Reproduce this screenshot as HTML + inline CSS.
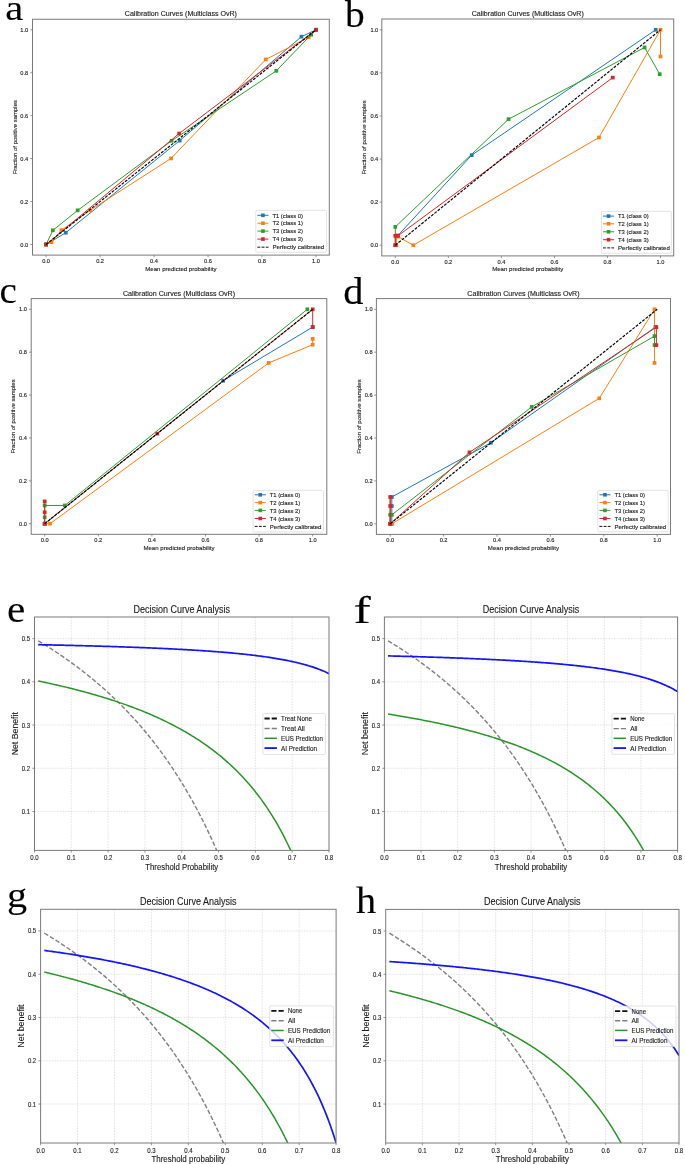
<!DOCTYPE html>
<html><head><meta charset="utf-8"><title>Figure</title>
<style>
html,body{margin:0;padding:0;background:#fff;}
body{width:685px;height:1164px;overflow:hidden;}
svg{display:block;font-family:"Liberation Sans", sans-serif;filter:blur(0.3px);}
text{stroke:#1a1a1a;stroke-width:0.12px;}
</style></head><body>
<svg width="685" height="1164" viewBox="0 0 685 1164">
<rect width="685" height="1164" fill="#fff"/>
<text x="0" y="0" font-size="36.4" fill="#000" font-family='"Liberation Serif", serif' transform="translate(5.18 20.07) scale(1.116 1)">a</text>
<text x="0" y="0" font-size="38.26" fill="#000" font-family='"Liberation Serif", serif' transform="translate(345 27.46) scale(1.032 1)">b</text>
<text x="0" y="0" font-size="38.13" fill="#000" font-family='"Liberation Serif", serif' transform="translate(-0.58 302.76) scale(1.024 1)">c</text>
<text x="0" y="0" font-size="38.62" fill="#000" font-family='"Liberation Serif", serif' transform="translate(343.35 303.55) scale(1.045 1)">d</text>
<text x="0" y="0" font-size="38.02" fill="#000" font-family='"Liberation Serif", serif' transform="translate(7.09 622.46) scale(1.083 1)">e</text>
<text x="0" y="0" font-size="38.55" fill="#000" font-family='"Liberation Serif", serif' transform="translate(353.39 622.64) scale(1.344 1)">f</text>
<text x="0" y="0" font-size="35.16" fill="#000" font-family='"Liberation Serif", serif' transform="translate(6.97 907.14) scale(1.145 1)">g</text>
<text x="0" y="0" font-size="38.67" fill="#000" font-family='"Liberation Serif", serif' transform="translate(356.1 912.74) scale(1.043 1)">h</text>
<g>
<clipPath id="c51"><rect x="32.5" y="19.25" width="296.8" height="235.85"/></clipPath>
<g clip-path="url(#c51)">
<polyline points="46.1,244.5 65.8,232.69 179.7,140.59 301.43,36.67 316,29.8" fill="none" stroke="#1f77b4" stroke-width="1" stroke-linejoin="round"/>
<rect x="44.25" y="242.65" width="3.7" height="3.7" fill="#1f77b4"/>
<rect x="63.95" y="230.84" width="3.7" height="3.7" fill="#1f77b4"/>
<rect x="177.85" y="138.74" width="3.7" height="3.7" fill="#1f77b4"/>
<rect x="299.58" y="34.82" width="3.7" height="3.7" fill="#1f77b4"/>
<rect x="314.15" y="27.95" width="3.7" height="3.7" fill="#1f77b4"/>
<polyline points="46.1,244.5 51.5,242.14 61.48,230.12 90.09,210.36 171.06,158.41 265.8,59.43 308.71,37.31 316,29.8" fill="none" stroke="#ff7f0e" stroke-width="1" stroke-linejoin="round"/>
<rect x="44.25" y="242.65" width="3.7" height="3.7" fill="#ff7f0e"/>
<rect x="49.65" y="240.29" width="3.7" height="3.7" fill="#ff7f0e"/>
<rect x="59.63" y="228.27" width="3.7" height="3.7" fill="#ff7f0e"/>
<rect x="88.24" y="208.51" width="3.7" height="3.7" fill="#ff7f0e"/>
<rect x="169.21" y="156.56" width="3.7" height="3.7" fill="#ff7f0e"/>
<rect x="263.95" y="57.58" width="3.7" height="3.7" fill="#ff7f0e"/>
<rect x="306.86" y="35.46" width="3.7" height="3.7" fill="#ff7f0e"/>
<rect x="314.15" y="27.95" width="3.7" height="3.7" fill="#ff7f0e"/>
<polyline points="46.1,244.5 52.85,230.33 77.68,210.36 171.6,140.8 276.32,70.81 311.14,34.74 316,29.8" fill="none" stroke="#2ca02c" stroke-width="1" stroke-linejoin="round"/>
<rect x="44.25" y="242.65" width="3.7" height="3.7" fill="#2ca02c"/>
<rect x="51" y="228.48" width="3.7" height="3.7" fill="#2ca02c"/>
<rect x="75.83" y="208.51" width="3.7" height="3.7" fill="#2ca02c"/>
<rect x="169.75" y="138.95" width="3.7" height="3.7" fill="#2ca02c"/>
<rect x="274.47" y="68.96" width="3.7" height="3.7" fill="#2ca02c"/>
<rect x="309.29" y="32.89" width="3.7" height="3.7" fill="#2ca02c"/>
<rect x="314.15" y="27.95" width="3.7" height="3.7" fill="#2ca02c"/>
<polyline points="46.1,244.5 179.16,133.5 316,29.8" fill="none" stroke="#d62728" stroke-width="1" stroke-linejoin="round"/>
<rect x="44.25" y="242.65" width="3.7" height="3.7" fill="#d62728"/>
<rect x="177.31" y="131.65" width="3.7" height="3.7" fill="#d62728"/>
<rect x="314.15" y="27.95" width="3.7" height="3.7" fill="#d62728"/>
<polyline points="46.1,244.5 316,29.8" fill="none" stroke="#000" stroke-width="1.15" stroke-linejoin="round" stroke-dasharray="2.9 1.3"/>
</g>
<rect x="32.5" y="19.25" width="296.8" height="235.85" fill="none" stroke="#7a7a7a" stroke-width="1"/>
<line x1="46.1" y1="255.1" x2="46.1" y2="257.3" stroke="#7a7a7a" stroke-width="0.8"/>
<text x="46.1" y="262.9" font-size="5.7" fill="#1a1a1a" text-anchor="middle" textLength="7.9" lengthAdjust="spacingAndGlyphs">0.0</text>
<line x1="30.3" y1="244.5" x2="32.5" y2="244.5" stroke="#7a7a7a" stroke-width="0.8"/>
<text x="28.2" y="246.55" font-size="5.7" fill="#1a1a1a" text-anchor="end" textLength="7.9" lengthAdjust="spacingAndGlyphs">0.0</text>
<line x1="100.08" y1="255.1" x2="100.08" y2="257.3" stroke="#7a7a7a" stroke-width="0.8"/>
<text x="100.08" y="262.9" font-size="5.7" fill="#1a1a1a" text-anchor="middle" textLength="7.9" lengthAdjust="spacingAndGlyphs">0.2</text>
<line x1="30.3" y1="201.56" x2="32.5" y2="201.56" stroke="#7a7a7a" stroke-width="0.8"/>
<text x="28.2" y="203.61" font-size="5.7" fill="#1a1a1a" text-anchor="end" textLength="7.9" lengthAdjust="spacingAndGlyphs">0.2</text>
<line x1="154.06" y1="255.1" x2="154.06" y2="257.3" stroke="#7a7a7a" stroke-width="0.8"/>
<text x="154.06" y="262.9" font-size="5.7" fill="#1a1a1a" text-anchor="middle" textLength="7.9" lengthAdjust="spacingAndGlyphs">0.4</text>
<line x1="30.3" y1="158.62" x2="32.5" y2="158.62" stroke="#7a7a7a" stroke-width="0.8"/>
<text x="28.2" y="160.67" font-size="5.7" fill="#1a1a1a" text-anchor="end" textLength="7.9" lengthAdjust="spacingAndGlyphs">0.4</text>
<line x1="208.04" y1="255.1" x2="208.04" y2="257.3" stroke="#7a7a7a" stroke-width="0.8"/>
<text x="208.04" y="262.9" font-size="5.7" fill="#1a1a1a" text-anchor="middle" textLength="7.9" lengthAdjust="spacingAndGlyphs">0.6</text>
<line x1="30.3" y1="115.68" x2="32.5" y2="115.68" stroke="#7a7a7a" stroke-width="0.8"/>
<text x="28.2" y="117.73" font-size="5.7" fill="#1a1a1a" text-anchor="end" textLength="7.9" lengthAdjust="spacingAndGlyphs">0.6</text>
<line x1="262.02" y1="255.1" x2="262.02" y2="257.3" stroke="#7a7a7a" stroke-width="0.8"/>
<text x="262.02" y="262.9" font-size="5.7" fill="#1a1a1a" text-anchor="middle" textLength="7.9" lengthAdjust="spacingAndGlyphs">0.8</text>
<line x1="30.3" y1="72.74" x2="32.5" y2="72.74" stroke="#7a7a7a" stroke-width="0.8"/>
<text x="28.2" y="74.79" font-size="5.7" fill="#1a1a1a" text-anchor="end" textLength="7.9" lengthAdjust="spacingAndGlyphs">0.8</text>
<line x1="316" y1="255.1" x2="316" y2="257.3" stroke="#7a7a7a" stroke-width="0.8"/>
<text x="316" y="262.9" font-size="5.7" fill="#1a1a1a" text-anchor="middle" textLength="7.9" lengthAdjust="spacingAndGlyphs">1.0</text>
<line x1="30.3" y1="29.8" x2="32.5" y2="29.8" stroke="#7a7a7a" stroke-width="0.8"/>
<text x="28.2" y="31.85" font-size="5.7" fill="#1a1a1a" text-anchor="end" textLength="7.9" lengthAdjust="spacingAndGlyphs">1.0</text>
<text x="180.9" y="16.2" font-size="6.8" fill="#1a1a1a" text-anchor="middle" textLength="112.2" lengthAdjust="spacingAndGlyphs">Calibration Curves (Multiclass OvR)</text>
<text x="180.9" y="270.6" font-size="6.2" fill="#1a1a1a" text-anchor="middle" textLength="71.2" lengthAdjust="spacingAndGlyphs">Mean predicted probability</text>
<text x="16.6" y="137.18" font-size="6" fill="#1a1a1a" text-anchor="middle" textLength="74.3" lengthAdjust="spacingAndGlyphs" transform="rotate(-90 16.6 137.18)">Fraction of positive samples</text>
<rect x="255.8" y="210.4" width="70.8" height="41.9" rx="1.2" fill="#fff" fill-opacity="0.8" stroke="#d8d8d8" stroke-width="0.7"/>
<line x1="257.4" y1="215.3" x2="268.5" y2="215.3" stroke="#1f77b4" stroke-width="1"/>
<rect x="261.15" y="213.5" width="3.6" height="3.6" fill="#1f77b4"/>
<text x="272.4" y="217.5" font-size="6" fill="#1a1a1a" textLength="30.6" lengthAdjust="spacingAndGlyphs">T1 (class 0)</text>
<line x1="257.4" y1="223.2" x2="268.5" y2="223.2" stroke="#ff7f0e" stroke-width="1"/>
<rect x="261.15" y="221.4" width="3.6" height="3.6" fill="#ff7f0e"/>
<text x="272.4" y="225.4" font-size="6" fill="#1a1a1a" textLength="30.6" lengthAdjust="spacingAndGlyphs">T2 (class 1)</text>
<line x1="257.4" y1="231.1" x2="268.5" y2="231.1" stroke="#2ca02c" stroke-width="1"/>
<rect x="261.15" y="229.3" width="3.6" height="3.6" fill="#2ca02c"/>
<text x="272.4" y="233.3" font-size="6" fill="#1a1a1a" textLength="30.6" lengthAdjust="spacingAndGlyphs">T3 (class 2)</text>
<line x1="257.4" y1="239.1" x2="268.5" y2="239.1" stroke="#d62728" stroke-width="1"/>
<rect x="261.15" y="237.3" width="3.6" height="3.6" fill="#d62728"/>
<text x="272.4" y="241.3" font-size="6" fill="#1a1a1a" textLength="30.6" lengthAdjust="spacingAndGlyphs">T4 (class 3)</text>
<line x1="257.4" y1="247.2" x2="268.5" y2="247.2" stroke="#111" stroke-width="1" stroke-dasharray="2.9 1.3"/>
<text x="272.4" y="249.4" font-size="6" fill="#1a1a1a" textLength="51.8" lengthAdjust="spacingAndGlyphs">Perfectly calibrated</text>
</g>
<g>
<clipPath id="c400"><rect x="381.8" y="19" width="291.9" height="236.9"/></clipPath>
<g clip-path="url(#c400)">
<polyline points="397.95,235.51 471.68,155.16 655.73,29.8" fill="none" stroke="#1f77b4" stroke-width="1" stroke-linejoin="round"/>
<rect x="396.1" y="233.66" width="3.7" height="3.7" fill="#1f77b4"/>
<rect x="469.83" y="153.31" width="3.7" height="3.7" fill="#1f77b4"/>
<rect x="653.88" y="27.95" width="3.7" height="3.7" fill="#1f77b4"/>
<polyline points="396.36,245.2 396.36,236.58 397.95,236.58 413.33,245.2 598.97,137.5 660.5,29.8 660.5,56.51" fill="none" stroke="#ff7f0e" stroke-width="1" stroke-linejoin="round"/>
<rect x="394.51" y="243.35" width="3.7" height="3.7" fill="#ff7f0e"/>
<rect x="394.51" y="234.73" width="3.7" height="3.7" fill="#ff7f0e"/>
<rect x="396.1" y="234.73" width="3.7" height="3.7" fill="#ff7f0e"/>
<rect x="411.48" y="243.35" width="3.7" height="3.7" fill="#ff7f0e"/>
<rect x="597.12" y="135.65" width="3.7" height="3.7" fill="#ff7f0e"/>
<rect x="658.65" y="27.95" width="3.7" height="3.7" fill="#ff7f0e"/>
<rect x="658.65" y="54.66" width="3.7" height="3.7" fill="#ff7f0e"/>
<polyline points="395.3,245.2 395.3,226.89 508.54,119.19 644.59,47.46 659.7,74.17" fill="none" stroke="#2ca02c" stroke-width="1" stroke-linejoin="round"/>
<rect x="393.45" y="243.35" width="3.7" height="3.7" fill="#2ca02c"/>
<rect x="393.45" y="225.04" width="3.7" height="3.7" fill="#2ca02c"/>
<rect x="506.69" y="117.34" width="3.7" height="3.7" fill="#2ca02c"/>
<rect x="642.74" y="45.61" width="3.7" height="3.7" fill="#2ca02c"/>
<rect x="657.85" y="72.32" width="3.7" height="3.7" fill="#2ca02c"/>
<polyline points="395.3,245.2 395.3,235.79 397.95,235.79 612.76,77.62" fill="none" stroke="#d62728" stroke-width="1" stroke-linejoin="round"/>
<rect x="393.45" y="243.35" width="3.7" height="3.7" fill="#d62728"/>
<rect x="393.45" y="233.94" width="3.7" height="3.7" fill="#d62728"/>
<rect x="396.1" y="233.94" width="3.7" height="3.7" fill="#d62728"/>
<rect x="610.91" y="75.77" width="3.7" height="3.7" fill="#d62728"/>
<polyline points="395.3,245.2 660.5,29.8" fill="none" stroke="#000" stroke-width="1.15" stroke-linejoin="round" stroke-dasharray="2.9 1.3"/>
</g>
<rect x="381.8" y="19" width="291.9" height="236.9" fill="none" stroke="#7a7a7a" stroke-width="1"/>
<line x1="395.3" y1="255.9" x2="395.3" y2="258.1" stroke="#7a7a7a" stroke-width="0.8"/>
<text x="395.3" y="263.7" font-size="5.7" fill="#1a1a1a" text-anchor="middle" textLength="7.9" lengthAdjust="spacingAndGlyphs">0.0</text>
<line x1="379.6" y1="245.2" x2="381.8" y2="245.2" stroke="#7a7a7a" stroke-width="0.8"/>
<text x="378.3" y="247.25" font-size="5.7" fill="#1a1a1a" text-anchor="end" textLength="7.9" lengthAdjust="spacingAndGlyphs">0.0</text>
<line x1="448.34" y1="255.9" x2="448.34" y2="258.1" stroke="#7a7a7a" stroke-width="0.8"/>
<text x="448.34" y="263.7" font-size="5.7" fill="#1a1a1a" text-anchor="middle" textLength="7.9" lengthAdjust="spacingAndGlyphs">0.2</text>
<line x1="379.6" y1="202.12" x2="381.8" y2="202.12" stroke="#7a7a7a" stroke-width="0.8"/>
<text x="378.3" y="204.17" font-size="5.7" fill="#1a1a1a" text-anchor="end" textLength="7.9" lengthAdjust="spacingAndGlyphs">0.2</text>
<line x1="501.38" y1="255.9" x2="501.38" y2="258.1" stroke="#7a7a7a" stroke-width="0.8"/>
<text x="501.38" y="263.7" font-size="5.7" fill="#1a1a1a" text-anchor="middle" textLength="7.9" lengthAdjust="spacingAndGlyphs">0.4</text>
<line x1="379.6" y1="159.04" x2="381.8" y2="159.04" stroke="#7a7a7a" stroke-width="0.8"/>
<text x="378.3" y="161.09" font-size="5.7" fill="#1a1a1a" text-anchor="end" textLength="7.9" lengthAdjust="spacingAndGlyphs">0.4</text>
<line x1="554.42" y1="255.9" x2="554.42" y2="258.1" stroke="#7a7a7a" stroke-width="0.8"/>
<text x="554.42" y="263.7" font-size="5.7" fill="#1a1a1a" text-anchor="middle" textLength="7.9" lengthAdjust="spacingAndGlyphs">0.6</text>
<line x1="379.6" y1="115.96" x2="381.8" y2="115.96" stroke="#7a7a7a" stroke-width="0.8"/>
<text x="378.3" y="118.01" font-size="5.7" fill="#1a1a1a" text-anchor="end" textLength="7.9" lengthAdjust="spacingAndGlyphs">0.6</text>
<line x1="607.46" y1="255.9" x2="607.46" y2="258.1" stroke="#7a7a7a" stroke-width="0.8"/>
<text x="607.46" y="263.7" font-size="5.7" fill="#1a1a1a" text-anchor="middle" textLength="7.9" lengthAdjust="spacingAndGlyphs">0.8</text>
<line x1="379.6" y1="72.88" x2="381.8" y2="72.88" stroke="#7a7a7a" stroke-width="0.8"/>
<text x="378.3" y="74.93" font-size="5.7" fill="#1a1a1a" text-anchor="end" textLength="7.9" lengthAdjust="spacingAndGlyphs">0.8</text>
<line x1="660.5" y1="255.9" x2="660.5" y2="258.1" stroke="#7a7a7a" stroke-width="0.8"/>
<text x="660.5" y="263.7" font-size="5.7" fill="#1a1a1a" text-anchor="middle" textLength="7.9" lengthAdjust="spacingAndGlyphs">1.0</text>
<line x1="379.6" y1="29.8" x2="381.8" y2="29.8" stroke="#7a7a7a" stroke-width="0.8"/>
<text x="378.3" y="31.85" font-size="5.7" fill="#1a1a1a" text-anchor="end" textLength="7.9" lengthAdjust="spacingAndGlyphs">1.0</text>
<text x="527.75" y="16" font-size="6.8" fill="#1a1a1a" text-anchor="middle" textLength="112.2" lengthAdjust="spacingAndGlyphs">Calibration Curves (Multiclass OvR)</text>
<text x="527.75" y="271.4" font-size="6.2" fill="#1a1a1a" text-anchor="middle" textLength="71.2" lengthAdjust="spacingAndGlyphs">Mean predicted probability</text>
<text x="366.2" y="137.45" font-size="6" fill="#1a1a1a" text-anchor="middle" textLength="74.3" lengthAdjust="spacingAndGlyphs" transform="rotate(-90 366.2 137.45)">Fraction of positive samples</text>
<rect x="601.4" y="211.4" width="70" height="41.9" rx="1.2" fill="#fff" fill-opacity="0.8" stroke="#d8d8d8" stroke-width="0.7"/>
<line x1="603" y1="216.1" x2="614.1" y2="216.1" stroke="#1f77b4" stroke-width="1"/>
<rect x="606.75" y="214.3" width="3.6" height="3.6" fill="#1f77b4"/>
<text x="618" y="218.3" font-size="6" fill="#1a1a1a" textLength="30.6" lengthAdjust="spacingAndGlyphs">T1 (class 0)</text>
<line x1="603" y1="223.8" x2="614.1" y2="223.8" stroke="#ff7f0e" stroke-width="1"/>
<rect x="606.75" y="222" width="3.6" height="3.6" fill="#ff7f0e"/>
<text x="618" y="226" font-size="6" fill="#1a1a1a" textLength="30.6" lengthAdjust="spacingAndGlyphs">T2 (class 1)</text>
<line x1="603" y1="231.8" x2="614.1" y2="231.8" stroke="#2ca02c" stroke-width="1"/>
<rect x="606.75" y="230" width="3.6" height="3.6" fill="#2ca02c"/>
<text x="618" y="234" font-size="6" fill="#1a1a1a" textLength="30.6" lengthAdjust="spacingAndGlyphs">T3 (class 2)</text>
<line x1="603" y1="239.7" x2="614.1" y2="239.7" stroke="#d62728" stroke-width="1"/>
<rect x="606.75" y="237.9" width="3.6" height="3.6" fill="#d62728"/>
<text x="618" y="241.9" font-size="6" fill="#1a1a1a" textLength="30.6" lengthAdjust="spacingAndGlyphs">T4 (class 3)</text>
<line x1="603" y1="247.9" x2="614.1" y2="247.9" stroke="#111" stroke-width="1" stroke-dasharray="2.9 1.3"/>
<text x="618" y="250.1" font-size="6" fill="#1a1a1a" textLength="51.8" lengthAdjust="spacingAndGlyphs">Perfectly calibrated</text>
</g>
<g>
<clipPath id="c329"><rect x="31.2" y="298.6" width="295.6" height="235.7"/></clipPath>
<g clip-path="url(#c329)">
<polyline points="44.7,523.7 223.19,380.7 312.7,327.1" fill="none" stroke="#1f77b4" stroke-width="1" stroke-linejoin="round"/>
<rect x="42.85" y="521.85" width="3.7" height="3.7" fill="#1f77b4"/>
<rect x="221.34" y="378.85" width="3.7" height="3.7" fill="#1f77b4"/>
<rect x="310.85" y="325.25" width="3.7" height="3.7" fill="#1f77b4"/>
<polyline points="44.7,523.7 50.06,523.7 268.75,362.9 312.7,344.68 312.7,338.89" fill="none" stroke="#ff7f0e" stroke-width="1" stroke-linejoin="round"/>
<rect x="42.85" y="521.85" width="3.7" height="3.7" fill="#ff7f0e"/>
<rect x="48.21" y="521.85" width="3.7" height="3.7" fill="#ff7f0e"/>
<rect x="266.9" y="361.05" width="3.7" height="3.7" fill="#ff7f0e"/>
<rect x="310.85" y="342.83" width="3.7" height="3.7" fill="#ff7f0e"/>
<rect x="310.85" y="337.04" width="3.7" height="3.7" fill="#ff7f0e"/>
<polyline points="44.7,523.7 44.7,517.27 44.7,505.48 64.8,505.48 307.34,309.3" fill="none" stroke="#2ca02c" stroke-width="1" stroke-linejoin="round"/>
<rect x="42.85" y="521.85" width="3.7" height="3.7" fill="#2ca02c"/>
<rect x="42.85" y="515.42" width="3.7" height="3.7" fill="#2ca02c"/>
<rect x="42.85" y="503.63" width="3.7" height="3.7" fill="#2ca02c"/>
<rect x="62.95" y="503.63" width="3.7" height="3.7" fill="#2ca02c"/>
<rect x="305.49" y="307.45" width="3.7" height="3.7" fill="#2ca02c"/>
<polyline points="44.7,501.4 44.7,512.34 44.7,523.7 157.26,433.65 312.7,309.3 312.7,327.1" fill="none" stroke="#d62728" stroke-width="1" stroke-linejoin="round"/>
<rect x="42.85" y="499.55" width="3.7" height="3.7" fill="#d62728"/>
<rect x="42.85" y="510.49" width="3.7" height="3.7" fill="#d62728"/>
<rect x="42.85" y="521.85" width="3.7" height="3.7" fill="#d62728"/>
<rect x="155.41" y="431.8" width="3.7" height="3.7" fill="#d62728"/>
<rect x="310.85" y="307.45" width="3.7" height="3.7" fill="#d62728"/>
<rect x="310.85" y="325.25" width="3.7" height="3.7" fill="#d62728"/>
<polyline points="44.7,523.7 312.7,309.3" fill="none" stroke="#000" stroke-width="1.15" stroke-linejoin="round" stroke-dasharray="2.9 1.3"/>
</g>
<rect x="31.2" y="298.6" width="295.6" height="235.7" fill="none" stroke="#7a7a7a" stroke-width="1"/>
<line x1="44.7" y1="534.3" x2="44.7" y2="536.5" stroke="#7a7a7a" stroke-width="0.8"/>
<text x="44.7" y="542.1" font-size="5.7" fill="#1a1a1a" text-anchor="middle" textLength="7.9" lengthAdjust="spacingAndGlyphs">0.0</text>
<line x1="29" y1="523.7" x2="31.2" y2="523.7" stroke="#7a7a7a" stroke-width="0.8"/>
<text x="27" y="525.75" font-size="5.7" fill="#1a1a1a" text-anchor="end" textLength="7.9" lengthAdjust="spacingAndGlyphs">0.0</text>
<line x1="98.3" y1="534.3" x2="98.3" y2="536.5" stroke="#7a7a7a" stroke-width="0.8"/>
<text x="98.3" y="542.1" font-size="5.7" fill="#1a1a1a" text-anchor="middle" textLength="7.9" lengthAdjust="spacingAndGlyphs">0.2</text>
<line x1="29" y1="480.82" x2="31.2" y2="480.82" stroke="#7a7a7a" stroke-width="0.8"/>
<text x="27" y="482.87" font-size="5.7" fill="#1a1a1a" text-anchor="end" textLength="7.9" lengthAdjust="spacingAndGlyphs">0.2</text>
<line x1="151.9" y1="534.3" x2="151.9" y2="536.5" stroke="#7a7a7a" stroke-width="0.8"/>
<text x="151.9" y="542.1" font-size="5.7" fill="#1a1a1a" text-anchor="middle" textLength="7.9" lengthAdjust="spacingAndGlyphs">0.4</text>
<line x1="29" y1="437.94" x2="31.2" y2="437.94" stroke="#7a7a7a" stroke-width="0.8"/>
<text x="27" y="439.99" font-size="5.7" fill="#1a1a1a" text-anchor="end" textLength="7.9" lengthAdjust="spacingAndGlyphs">0.4</text>
<line x1="205.5" y1="534.3" x2="205.5" y2="536.5" stroke="#7a7a7a" stroke-width="0.8"/>
<text x="205.5" y="542.1" font-size="5.7" fill="#1a1a1a" text-anchor="middle" textLength="7.9" lengthAdjust="spacingAndGlyphs">0.6</text>
<line x1="29" y1="395.06" x2="31.2" y2="395.06" stroke="#7a7a7a" stroke-width="0.8"/>
<text x="27" y="397.11" font-size="5.7" fill="#1a1a1a" text-anchor="end" textLength="7.9" lengthAdjust="spacingAndGlyphs">0.6</text>
<line x1="259.1" y1="534.3" x2="259.1" y2="536.5" stroke="#7a7a7a" stroke-width="0.8"/>
<text x="259.1" y="542.1" font-size="5.7" fill="#1a1a1a" text-anchor="middle" textLength="7.9" lengthAdjust="spacingAndGlyphs">0.8</text>
<line x1="29" y1="352.18" x2="31.2" y2="352.18" stroke="#7a7a7a" stroke-width="0.8"/>
<text x="27" y="354.23" font-size="5.7" fill="#1a1a1a" text-anchor="end" textLength="7.9" lengthAdjust="spacingAndGlyphs">0.8</text>
<line x1="312.7" y1="534.3" x2="312.7" y2="536.5" stroke="#7a7a7a" stroke-width="0.8"/>
<text x="312.7" y="542.1" font-size="5.7" fill="#1a1a1a" text-anchor="middle" textLength="7.9" lengthAdjust="spacingAndGlyphs">1.0</text>
<line x1="29" y1="309.3" x2="31.2" y2="309.3" stroke="#7a7a7a" stroke-width="0.8"/>
<text x="27" y="311.35" font-size="5.7" fill="#1a1a1a" text-anchor="end" textLength="7.9" lengthAdjust="spacingAndGlyphs">1.0</text>
<text x="179" y="295.8" font-size="6.8" fill="#1a1a1a" text-anchor="middle" textLength="112.2" lengthAdjust="spacingAndGlyphs">Calibration Curves (Multiclass OvR)</text>
<text x="179" y="549.8" font-size="6.2" fill="#1a1a1a" text-anchor="middle" textLength="71.2" lengthAdjust="spacingAndGlyphs">Mean predicted probability</text>
<text x="15.3" y="416.45" font-size="6" fill="#1a1a1a" text-anchor="middle" textLength="74.3" lengthAdjust="spacingAndGlyphs" transform="rotate(-90 15.3 416.45)">Fraction of positive samples</text>
<rect x="253.1" y="490.4" width="70.4" height="41.6" rx="1.2" fill="#fff" fill-opacity="0.8" stroke="#d8d8d8" stroke-width="0.7"/>
<line x1="254.7" y1="494.8" x2="265.8" y2="494.8" stroke="#1f77b4" stroke-width="1"/>
<rect x="258.45" y="493" width="3.6" height="3.6" fill="#1f77b4"/>
<text x="269.7" y="497" font-size="6" fill="#1a1a1a" textLength="30.6" lengthAdjust="spacingAndGlyphs">T1 (class 0)</text>
<line x1="254.7" y1="502.6" x2="265.8" y2="502.6" stroke="#ff7f0e" stroke-width="1"/>
<rect x="258.45" y="500.8" width="3.6" height="3.6" fill="#ff7f0e"/>
<text x="269.7" y="504.8" font-size="6" fill="#1a1a1a" textLength="30.6" lengthAdjust="spacingAndGlyphs">T2 (class 1)</text>
<line x1="254.7" y1="510.4" x2="265.8" y2="510.4" stroke="#2ca02c" stroke-width="1"/>
<rect x="258.45" y="508.6" width="3.6" height="3.6" fill="#2ca02c"/>
<text x="269.7" y="512.6" font-size="6" fill="#1a1a1a" textLength="30.6" lengthAdjust="spacingAndGlyphs">T3 (class 2)</text>
<line x1="254.7" y1="518.5" x2="265.8" y2="518.5" stroke="#d62728" stroke-width="1"/>
<rect x="258.45" y="516.7" width="3.6" height="3.6" fill="#d62728"/>
<text x="269.7" y="520.7" font-size="6" fill="#1a1a1a" textLength="30.6" lengthAdjust="spacingAndGlyphs">T4 (class 3)</text>
<line x1="254.7" y1="526.4" x2="265.8" y2="526.4" stroke="#111" stroke-width="1" stroke-dasharray="2.9 1.3"/>
<text x="269.7" y="528.6" font-size="6" fill="#1a1a1a" textLength="51.8" lengthAdjust="spacingAndGlyphs">Perfectly calibrated</text>
</g>
<g>
<clipPath id="c675"><rect x="376.4" y="298.6" width="294.1" height="235.8"/></clipPath>
<g clip-path="url(#c675)">
<polyline points="391.8,523.8 391.8,506 391.8,496.99 490.86,442.72 655.33,327.1" fill="none" stroke="#1f77b4" stroke-width="1" stroke-linejoin="round"/>
<rect x="389.95" y="521.95" width="3.7" height="3.7" fill="#1f77b4"/>
<rect x="389.95" y="504.15" width="3.7" height="3.7" fill="#1f77b4"/>
<rect x="389.95" y="495.14" width="3.7" height="3.7" fill="#1f77b4"/>
<rect x="489.01" y="440.87" width="3.7" height="3.7" fill="#1f77b4"/>
<rect x="653.48" y="325.25" width="3.7" height="3.7" fill="#1f77b4"/>
<polyline points="391.8,523.8 599.26,398.32 654.53,309.3 654.53,362.93" fill="none" stroke="#ff7f0e" stroke-width="1" stroke-linejoin="round"/>
<rect x="389.95" y="521.95" width="3.7" height="3.7" fill="#ff7f0e"/>
<rect x="597.41" y="396.47" width="3.7" height="3.7" fill="#ff7f0e"/>
<rect x="652.68" y="307.45" width="3.7" height="3.7" fill="#ff7f0e"/>
<rect x="652.68" y="361.07" width="3.7" height="3.7" fill="#ff7f0e"/>
<polyline points="390.2,523.8 390.2,514.79 391.8,514.79 531.71,406.9 654.53,336.11 654.53,345.12" fill="none" stroke="#2ca02c" stroke-width="1" stroke-linejoin="round"/>
<rect x="388.35" y="521.95" width="3.7" height="3.7" fill="#2ca02c"/>
<rect x="388.35" y="512.94" width="3.7" height="3.7" fill="#2ca02c"/>
<rect x="389.95" y="512.94" width="3.7" height="3.7" fill="#2ca02c"/>
<rect x="529.86" y="405.05" width="3.7" height="3.7" fill="#2ca02c"/>
<rect x="652.68" y="334.26" width="3.7" height="3.7" fill="#2ca02c"/>
<rect x="652.68" y="343.27" width="3.7" height="3.7" fill="#2ca02c"/>
<polyline points="390.2,523.8 390.2,506 390.2,496.99 390.2,523.8 469.5,452.37 656.4,327.1 656.4,345.12" fill="none" stroke="#d62728" stroke-width="1" stroke-linejoin="round"/>
<rect x="388.35" y="521.95" width="3.7" height="3.7" fill="#d62728"/>
<rect x="388.35" y="504.15" width="3.7" height="3.7" fill="#d62728"/>
<rect x="388.35" y="495.14" width="3.7" height="3.7" fill="#d62728"/>
<rect x="388.35" y="521.95" width="3.7" height="3.7" fill="#d62728"/>
<rect x="467.65" y="450.52" width="3.7" height="3.7" fill="#d62728"/>
<rect x="654.55" y="325.25" width="3.7" height="3.7" fill="#d62728"/>
<rect x="654.55" y="343.27" width="3.7" height="3.7" fill="#d62728"/>
<polyline points="390.2,523.8 657.2,309.3" fill="none" stroke="#000" stroke-width="1.15" stroke-linejoin="round" stroke-dasharray="2.9 1.3"/>
</g>
<rect x="376.4" y="298.6" width="294.1" height="235.8" fill="none" stroke="#7a7a7a" stroke-width="1"/>
<line x1="390.2" y1="534.4" x2="390.2" y2="536.6" stroke="#7a7a7a" stroke-width="0.8"/>
<text x="390.2" y="542.2" font-size="5.7" fill="#1a1a1a" text-anchor="middle" textLength="7.9" lengthAdjust="spacingAndGlyphs">0.0</text>
<line x1="374.2" y1="523.8" x2="376.4" y2="523.8" stroke="#7a7a7a" stroke-width="0.8"/>
<text x="372.6" y="525.85" font-size="5.7" fill="#1a1a1a" text-anchor="end" textLength="7.9" lengthAdjust="spacingAndGlyphs">0.0</text>
<line x1="443.6" y1="534.4" x2="443.6" y2="536.6" stroke="#7a7a7a" stroke-width="0.8"/>
<text x="443.6" y="542.2" font-size="5.7" fill="#1a1a1a" text-anchor="middle" textLength="7.9" lengthAdjust="spacingAndGlyphs">0.2</text>
<line x1="374.2" y1="480.9" x2="376.4" y2="480.9" stroke="#7a7a7a" stroke-width="0.8"/>
<text x="372.6" y="482.95" font-size="5.7" fill="#1a1a1a" text-anchor="end" textLength="7.9" lengthAdjust="spacingAndGlyphs">0.2</text>
<line x1="497" y1="534.4" x2="497" y2="536.6" stroke="#7a7a7a" stroke-width="0.8"/>
<text x="497" y="542.2" font-size="5.7" fill="#1a1a1a" text-anchor="middle" textLength="7.9" lengthAdjust="spacingAndGlyphs">0.4</text>
<line x1="374.2" y1="438" x2="376.4" y2="438" stroke="#7a7a7a" stroke-width="0.8"/>
<text x="372.6" y="440.05" font-size="5.7" fill="#1a1a1a" text-anchor="end" textLength="7.9" lengthAdjust="spacingAndGlyphs">0.4</text>
<line x1="550.4" y1="534.4" x2="550.4" y2="536.6" stroke="#7a7a7a" stroke-width="0.8"/>
<text x="550.4" y="542.2" font-size="5.7" fill="#1a1a1a" text-anchor="middle" textLength="7.9" lengthAdjust="spacingAndGlyphs">0.6</text>
<line x1="374.2" y1="395.1" x2="376.4" y2="395.1" stroke="#7a7a7a" stroke-width="0.8"/>
<text x="372.6" y="397.15" font-size="5.7" fill="#1a1a1a" text-anchor="end" textLength="7.9" lengthAdjust="spacingAndGlyphs">0.6</text>
<line x1="603.8" y1="534.4" x2="603.8" y2="536.6" stroke="#7a7a7a" stroke-width="0.8"/>
<text x="603.8" y="542.2" font-size="5.7" fill="#1a1a1a" text-anchor="middle" textLength="7.9" lengthAdjust="spacingAndGlyphs">0.8</text>
<line x1="374.2" y1="352.2" x2="376.4" y2="352.2" stroke="#7a7a7a" stroke-width="0.8"/>
<text x="372.6" y="354.25" font-size="5.7" fill="#1a1a1a" text-anchor="end" textLength="7.9" lengthAdjust="spacingAndGlyphs">0.8</text>
<line x1="657.2" y1="534.4" x2="657.2" y2="536.6" stroke="#7a7a7a" stroke-width="0.8"/>
<text x="657.2" y="542.2" font-size="5.7" fill="#1a1a1a" text-anchor="middle" textLength="7.9" lengthAdjust="spacingAndGlyphs">1.0</text>
<line x1="374.2" y1="309.3" x2="376.4" y2="309.3" stroke="#7a7a7a" stroke-width="0.8"/>
<text x="372.6" y="311.35" font-size="5.7" fill="#1a1a1a" text-anchor="end" textLength="7.9" lengthAdjust="spacingAndGlyphs">1.0</text>
<text x="523.45" y="295.7" font-size="6.8" fill="#1a1a1a" text-anchor="middle" textLength="112.2" lengthAdjust="spacingAndGlyphs">Calibration Curves (Multiclass OvR)</text>
<text x="523.45" y="549.8" font-size="6.2" fill="#1a1a1a" text-anchor="middle" textLength="71.2" lengthAdjust="spacingAndGlyphs">Mean predicted probability</text>
<text x="361" y="416.5" font-size="6" fill="#1a1a1a" text-anchor="middle" textLength="74.3" lengthAdjust="spacingAndGlyphs" transform="rotate(-90 361 416.5)">Fraction of positive samples</text>
<rect x="597.8" y="490.4" width="70.4" height="41.4" rx="1.2" fill="#fff" fill-opacity="0.8" stroke="#d8d8d8" stroke-width="0.7"/>
<line x1="599.4" y1="494.8" x2="610.5" y2="494.8" stroke="#1f77b4" stroke-width="1"/>
<rect x="603.15" y="493" width="3.6" height="3.6" fill="#1f77b4"/>
<text x="614.4" y="497" font-size="6" fill="#1a1a1a" textLength="30.6" lengthAdjust="spacingAndGlyphs">T1 (class 0)</text>
<line x1="599.4" y1="502.6" x2="610.5" y2="502.6" stroke="#ff7f0e" stroke-width="1"/>
<rect x="603.15" y="500.8" width="3.6" height="3.6" fill="#ff7f0e"/>
<text x="614.4" y="504.8" font-size="6" fill="#1a1a1a" textLength="30.6" lengthAdjust="spacingAndGlyphs">T2 (class 1)</text>
<line x1="599.4" y1="510.4" x2="610.5" y2="510.4" stroke="#2ca02c" stroke-width="1"/>
<rect x="603.15" y="508.6" width="3.6" height="3.6" fill="#2ca02c"/>
<text x="614.4" y="512.6" font-size="6" fill="#1a1a1a" textLength="30.6" lengthAdjust="spacingAndGlyphs">T3 (class 2)</text>
<line x1="599.4" y1="518.5" x2="610.5" y2="518.5" stroke="#d62728" stroke-width="1"/>
<rect x="603.15" y="516.7" width="3.6" height="3.6" fill="#d62728"/>
<text x="614.4" y="520.7" font-size="6" fill="#1a1a1a" textLength="30.6" lengthAdjust="spacingAndGlyphs">T4 (class 3)</text>
<line x1="599.4" y1="526.4" x2="610.5" y2="526.4" stroke="#111" stroke-width="1" stroke-dasharray="2.9 1.3"/>
<text x="614.4" y="528.6" font-size="6" fill="#1a1a1a" textLength="51.8" lengthAdjust="spacingAndGlyphs">Perfectly calibrated</text>
</g>
<g>
<clipPath id="d651"><rect x="34.5" y="617" width="294.5" height="233.4"/></clipPath>
<line x1="71.31" y1="617" x2="71.31" y2="850.4" stroke="#d0d0d0" stroke-width="0.6" stroke-dasharray="1.6 1.2"/>
<line x1="108.12" y1="617" x2="108.12" y2="850.4" stroke="#d0d0d0" stroke-width="0.6" stroke-dasharray="1.6 1.2"/>
<line x1="144.94" y1="617" x2="144.94" y2="850.4" stroke="#d0d0d0" stroke-width="0.6" stroke-dasharray="1.6 1.2"/>
<line x1="181.75" y1="617" x2="181.75" y2="850.4" stroke="#d0d0d0" stroke-width="0.6" stroke-dasharray="1.6 1.2"/>
<line x1="218.56" y1="617" x2="218.56" y2="850.4" stroke="#d0d0d0" stroke-width="0.6" stroke-dasharray="1.6 1.2"/>
<line x1="255.38" y1="617" x2="255.38" y2="850.4" stroke="#d0d0d0" stroke-width="0.6" stroke-dasharray="1.6 1.2"/>
<line x1="292.19" y1="617" x2="292.19" y2="850.4" stroke="#d0d0d0" stroke-width="0.6" stroke-dasharray="1.6 1.2"/>
<line x1="34.5" y1="811.5" x2="329" y2="811.5" stroke="#d0d0d0" stroke-width="0.6" stroke-dasharray="1.6 1.2"/>
<line x1="34.5" y1="768.28" x2="329" y2="768.28" stroke="#d0d0d0" stroke-width="0.6" stroke-dasharray="1.6 1.2"/>
<line x1="34.5" y1="725.06" x2="329" y2="725.06" stroke="#d0d0d0" stroke-width="0.6" stroke-dasharray="1.6 1.2"/>
<line x1="34.5" y1="681.83" x2="329" y2="681.83" stroke="#d0d0d0" stroke-width="0.6" stroke-dasharray="1.6 1.2"/>
<line x1="34.5" y1="638.61" x2="329" y2="638.61" stroke="#d0d0d0" stroke-width="0.6" stroke-dasharray="1.6 1.2"/>
<g clip-path="url(#d651)">
<polyline points="38.18,640.79 39.64,641.67 41.09,642.55 42.54,643.44 44,644.33 45.45,645.24 46.91,646.15 48.36,647.07 49.81,647.99 51.27,648.92 52.72,649.87 54.18,650.81 55.63,651.77 57.08,652.74 58.54,653.71 59.99,654.69 61.45,655.68 62.9,656.68 64.35,657.68 65.81,658.7 67.26,659.72 68.72,660.76 70.17,661.8 71.63,662.85 73.08,663.91 74.53,664.98 75.99,666.06 77.44,667.15 78.9,668.25 80.35,669.36 81.8,670.48 83.26,671.61 84.71,672.74 86.17,673.89 87.62,675.05 89.07,676.23 90.53,677.41 91.98,678.6 93.44,679.81 94.89,681.02 96.34,682.25 97.8,683.49 99.25,684.74 100.71,686 102.16,687.28 103.62,688.56 105.07,689.86 106.52,691.18 107.98,692.5 109.43,693.84 110.89,695.2 112.34,696.56 113.79,697.94 115.25,699.33 116.7,700.74 118.16,702.16 119.61,703.6 121.06,705.05 122.52,706.52 123.97,708 125.43,709.5 126.88,711.01 128.34,712.54 129.79,714.09 131.24,715.65 132.7,717.23 134.15,718.83 135.61,720.44 137.06,722.07 138.51,723.72 139.97,725.39 141.42,727.07 142.88,728.78 144.33,730.5 145.78,732.25 147.24,734.01 148.69,735.8 150.15,737.6 151.6,739.42 153.05,741.27 154.51,743.14 155.96,745.03 157.42,746.94 158.87,748.88 160.33,750.84 161.78,752.82 163.23,754.83 164.69,756.86 166.14,758.91 167.6,760.99 169.05,763.1 170.5,765.23 171.96,767.39 173.41,769.58 174.87,771.8 176.32,774.04 177.77,776.32 179.23,778.62 180.68,780.95 182.14,783.32 183.59,785.71 185.04,788.14 186.5,790.6 187.95,793.09 189.41,795.62 190.86,798.18 192.32,800.78 193.77,803.41 195.22,806.08 196.68,808.79 198.13,811.54 199.59,814.33 201.04,817.15 202.49,820.02 203.95,822.93 205.4,825.88 206.86,828.88 208.31,831.92 209.76,835 211.22,838.14 212.67,841.32 214.13,844.55 215.58,847.83 217.03,851.16 218.49,854.55 219.94,857.99" fill="none" stroke="#7f7f7f" stroke-width="1.4" stroke-linejoin="round" stroke-dasharray="4.6 2.0"/>
<polyline points="38.18,680.99 39.64,681.29 41.09,681.59 42.54,681.89 44,682.2 45.45,682.51 46.91,682.83 48.36,683.14 49.81,683.46 51.27,683.78 52.72,684.11 54.18,684.43 55.63,684.76 57.08,685.09 58.54,685.43 59.99,685.77 61.45,686.11 62.9,686.45 64.35,686.8 65.81,687.14 67.26,687.5 68.72,687.85 70.17,688.21 71.63,688.57 73.08,688.94 74.53,689.31 75.99,689.68 77.44,690.05 78.9,690.43 80.35,690.81 81.8,691.2 83.26,691.58 84.71,691.98 86.17,692.37 87.62,692.77 89.07,693.17 90.53,693.58 91.98,693.99 93.44,694.41 94.89,694.82 96.34,695.25 97.8,695.67 99.25,696.1 100.71,696.54 102.16,696.98 103.62,697.42 105.07,697.87 106.52,698.32 107.98,698.77 109.43,699.23 110.89,699.7 112.34,700.17 113.79,700.64 115.25,701.12 116.7,701.61 118.16,702.1 119.61,702.59 121.06,703.09 122.52,703.59 123.97,704.1 125.43,704.62 126.88,705.14 128.34,705.67 129.79,706.2 131.24,706.74 132.7,707.28 134.15,707.83 135.61,708.38 137.06,708.94 138.51,709.51 139.97,710.09 141.42,710.67 142.88,711.25 144.33,711.85 145.78,712.45 147.24,713.05 148.69,713.67 150.15,714.29 151.6,714.91 153.05,715.55 154.51,716.19 155.96,716.84 157.42,717.5 158.87,718.17 160.33,718.84 161.78,719.52 163.23,720.21 164.69,720.91 166.14,721.62 167.6,722.33 169.05,723.06 170.5,723.79 171.96,724.54 173.41,725.29 174.87,726.05 176.32,726.82 177.77,727.6 179.23,728.4 180.68,729.2 182.14,730.01 183.59,730.84 185.04,731.67 186.5,732.52 187.95,733.38 189.41,734.25 190.86,735.13 192.32,736.02 193.77,736.93 195.22,737.84 196.68,738.78 198.13,739.72 199.59,740.68 201.04,741.65 202.49,742.64 203.95,743.64 205.4,744.65 206.86,745.69 208.31,746.73 209.76,747.79 211.22,748.87 212.67,749.97 214.13,751.08 215.58,752.21 217.03,753.35 218.49,754.52 219.94,755.7 221.4,756.9 222.85,758.12 224.31,759.36 225.76,760.63 227.21,761.91 228.67,763.21 230.12,764.54 231.58,765.89 233.03,767.26 234.48,768.66 235.94,770.08 237.39,771.52 238.85,772.99 240.3,774.49 241.75,776.01 243.21,777.56 244.66,779.14 246.12,780.75 247.57,782.39 249.02,784.06 250.48,785.77 251.93,787.5 253.39,789.27 254.84,791.08 256.3,792.92 257.75,794.79 259.2,796.71 260.66,798.66 262.11,800.66 263.57,802.69 265.02,804.77 266.47,806.9 267.93,809.07 269.38,811.29 270.84,813.55 272.29,815.87 273.74,818.24 275.2,820.66 276.65,823.14 278.11,825.68 279.56,828.27 281.01,830.93 282.47,833.66 283.92,836.45 285.38,839.31 286.83,842.24 288.29,845.24 289.74,848.33 291.19,851.49 292.65,854.74" fill="none" stroke="#279527" stroke-width="1.5" stroke-linejoin="round"/>
<polyline points="38.18,644.69 39.64,644.72 41.09,644.75 42.54,644.78 44,644.81 45.45,644.84 46.91,644.87 48.36,644.9 49.81,644.93 51.27,644.96 52.72,645 54.18,645.03 55.63,645.06 57.08,645.09 58.54,645.13 59.99,645.16 61.45,645.19 62.9,645.22 64.35,645.26 65.81,645.29 67.26,645.33 68.72,645.36 70.17,645.4 71.63,645.43 73.08,645.47 74.53,645.5 75.99,645.54 77.44,645.58 78.9,645.61 80.35,645.65 81.8,645.69 83.26,645.73 84.71,645.76 86.17,645.8 87.62,645.84 89.07,645.88 90.53,645.92 91.98,645.96 93.44,646 94.89,646.04 96.34,646.08 97.8,646.12 99.25,646.17 100.71,646.21 102.16,646.25 103.62,646.29 105.07,646.34 106.52,646.38 107.98,646.43 109.43,646.47 110.89,646.52 112.34,646.56 113.79,646.61 115.25,646.66 116.7,646.7 118.16,646.75 119.61,646.8 121.06,646.85 122.52,646.9 123.97,646.95 125.43,647 126.88,647.05 128.34,647.1 129.79,647.15 131.24,647.2 132.7,647.26 134.15,647.31 135.61,647.36 137.06,647.42 138.51,647.47 139.97,647.53 141.42,647.59 142.88,647.64 144.33,647.7 145.78,647.76 147.24,647.82 148.69,647.88 150.15,647.94 151.6,648 153.05,648.06 154.51,648.12 155.96,648.19 157.42,648.25 158.87,648.32 160.33,648.38 161.78,648.45 163.23,648.52 164.69,648.58 166.14,648.65 167.6,648.72 169.05,648.79 170.5,648.87 171.96,648.94 173.41,649.01 174.87,649.09 176.32,649.16 177.77,649.24 179.23,649.31 180.68,649.39 182.14,649.47 183.59,649.55 185.04,649.63 186.5,649.72 187.95,649.8 189.41,649.89 190.86,649.97 192.32,650.06 193.77,650.15 195.22,650.24 196.68,650.33 198.13,650.42 199.59,650.51 201.04,650.61 202.49,650.7 203.95,650.8 205.4,650.9 206.86,651 208.31,651.1 209.76,651.21 211.22,651.31 212.67,651.42 214.13,651.53 215.58,651.64 217.03,651.75 218.49,651.86 219.94,651.98 221.4,652.09 222.85,652.21 224.31,652.33 225.76,652.46 227.21,652.58 228.67,652.71 230.12,652.84 231.58,652.97 233.03,653.1 234.48,653.24 235.94,653.38 237.39,653.52 238.85,653.66 240.3,653.81 241.75,653.96 243.21,654.11 244.66,654.26 246.12,654.42 247.57,654.58 249.02,654.74 250.48,654.91 251.93,655.08 253.39,655.25 254.84,655.43 256.3,655.61 257.75,655.79 259.2,655.98 260.66,656.17 262.11,656.36 263.57,656.56 265.02,656.76 266.47,656.97 267.93,657.18 269.38,657.4 270.84,657.62 272.29,657.84 273.74,658.07 275.2,658.31 276.65,658.55 278.11,658.8 279.56,659.05 281.01,659.31 282.47,659.58 283.92,659.85 285.38,660.13 286.83,660.41 288.29,660.71 289.74,661.01 291.19,661.32 292.65,661.63 294.1,661.96 295.56,662.29 297.01,662.64 298.46,662.99 299.92,663.35 301.37,663.72 302.83,664.11 304.28,664.5 305.73,664.91 307.19,665.33 308.64,665.76 310.1,666.21 311.55,666.67 313,667.14 314.46,667.64 315.91,668.14 317.37,668.67 318.82,669.21 320.28,669.77 321.73,670.36 323.18,670.96 324.64,671.59 326.09,672.24 327.55,672.91 329,673.61" fill="none" stroke="#1414ff" stroke-width="1.7" stroke-linejoin="round"/>
</g>
<rect x="34.5" y="617" width="294.5" height="233.4" fill="none" stroke="#7a7a7a" stroke-width="1"/>
<line x1="34.5" y1="850.4" x2="34.5" y2="852.6" stroke="#7a7a7a" stroke-width="0.8"/>
<text x="34.5" y="859.9" font-size="6.9" fill="#1a1a1a" text-anchor="middle" textLength="8.4" lengthAdjust="spacingAndGlyphs">0.0</text>
<line x1="71.31" y1="850.4" x2="71.31" y2="852.6" stroke="#7a7a7a" stroke-width="0.8"/>
<text x="71.31" y="859.9" font-size="6.9" fill="#1a1a1a" text-anchor="middle" textLength="8.4" lengthAdjust="spacingAndGlyphs">0.1</text>
<line x1="108.12" y1="850.4" x2="108.12" y2="852.6" stroke="#7a7a7a" stroke-width="0.8"/>
<text x="108.12" y="859.9" font-size="6.9" fill="#1a1a1a" text-anchor="middle" textLength="8.4" lengthAdjust="spacingAndGlyphs">0.2</text>
<line x1="144.94" y1="850.4" x2="144.94" y2="852.6" stroke="#7a7a7a" stroke-width="0.8"/>
<text x="144.94" y="859.9" font-size="6.9" fill="#1a1a1a" text-anchor="middle" textLength="8.4" lengthAdjust="spacingAndGlyphs">0.3</text>
<line x1="181.75" y1="850.4" x2="181.75" y2="852.6" stroke="#7a7a7a" stroke-width="0.8"/>
<text x="181.75" y="859.9" font-size="6.9" fill="#1a1a1a" text-anchor="middle" textLength="8.4" lengthAdjust="spacingAndGlyphs">0.4</text>
<line x1="218.56" y1="850.4" x2="218.56" y2="852.6" stroke="#7a7a7a" stroke-width="0.8"/>
<text x="218.56" y="859.9" font-size="6.9" fill="#1a1a1a" text-anchor="middle" textLength="8.4" lengthAdjust="spacingAndGlyphs">0.5</text>
<line x1="255.38" y1="850.4" x2="255.38" y2="852.6" stroke="#7a7a7a" stroke-width="0.8"/>
<text x="255.38" y="859.9" font-size="6.9" fill="#1a1a1a" text-anchor="middle" textLength="8.4" lengthAdjust="spacingAndGlyphs">0.6</text>
<line x1="292.19" y1="850.4" x2="292.19" y2="852.6" stroke="#7a7a7a" stroke-width="0.8"/>
<text x="292.19" y="859.9" font-size="6.9" fill="#1a1a1a" text-anchor="middle" textLength="8.4" lengthAdjust="spacingAndGlyphs">0.7</text>
<line x1="329" y1="850.4" x2="329" y2="852.6" stroke="#7a7a7a" stroke-width="0.8"/>
<text x="329" y="859.9" font-size="6.9" fill="#1a1a1a" text-anchor="middle" textLength="8.4" lengthAdjust="spacingAndGlyphs">0.8</text>
<line x1="32.3" y1="811.5" x2="34.5" y2="811.5" stroke="#7a7a7a" stroke-width="0.8"/>
<text x="30.1" y="814" font-size="6.9" fill="#1a1a1a" text-anchor="end" textLength="8.3" lengthAdjust="spacingAndGlyphs">0.1</text>
<line x1="32.3" y1="768.28" x2="34.5" y2="768.28" stroke="#7a7a7a" stroke-width="0.8"/>
<text x="30.1" y="770.78" font-size="6.9" fill="#1a1a1a" text-anchor="end" textLength="8.3" lengthAdjust="spacingAndGlyphs">0.2</text>
<line x1="32.3" y1="725.06" x2="34.5" y2="725.06" stroke="#7a7a7a" stroke-width="0.8"/>
<text x="30.1" y="727.56" font-size="6.9" fill="#1a1a1a" text-anchor="end" textLength="8.3" lengthAdjust="spacingAndGlyphs">0.3</text>
<line x1="32.3" y1="681.83" x2="34.5" y2="681.83" stroke="#7a7a7a" stroke-width="0.8"/>
<text x="30.1" y="684.33" font-size="6.9" fill="#1a1a1a" text-anchor="end" textLength="8.3" lengthAdjust="spacingAndGlyphs">0.4</text>
<line x1="32.3" y1="638.61" x2="34.5" y2="638.61" stroke="#7a7a7a" stroke-width="0.8"/>
<text x="30.1" y="641.11" font-size="6.9" fill="#1a1a1a" text-anchor="end" textLength="8.3" lengthAdjust="spacingAndGlyphs">0.5</text>
<text x="181.75" y="613.4" font-size="10.2" fill="#1a1a1a" text-anchor="middle" textLength="96.5" lengthAdjust="spacingAndGlyphs">Decision Curve Analysis</text>
<text x="181.75" y="869.7" font-size="8.7" fill="#1a1a1a" text-anchor="middle" textLength="72.9" lengthAdjust="spacingAndGlyphs">Threshold Probability</text>
<text x="18.3" y="733.7" font-size="8.6" fill="#1a1a1a" text-anchor="middle" textLength="43.2" lengthAdjust="spacingAndGlyphs" transform="rotate(-90 18.3 733.7)">Net Benefit</text>
<rect x="262.9" y="713.5" width="62.6" height="41" rx="1.2" fill="#fff" fill-opacity="0.8" stroke="#d8d8d8" stroke-width="0.7"/>
<line x1="264.5" y1="718.5" x2="276.9" y2="718.5" stroke="#111" stroke-width="1.8" stroke-dasharray="5.2 2.0"/>
<text x="281.1" y="720.9" font-size="6.6" fill="#1a1a1a" textLength="30.9" lengthAdjust="spacingAndGlyphs">Treat None</text>
<line x1="264.5" y1="728.5" x2="276.9" y2="728.5" stroke="#7f7f7f" stroke-width="1.4" stroke-dasharray="5.2 2.0"/>
<text x="281.1" y="730.9" font-size="6.6" fill="#1a1a1a" textLength="23.5" lengthAdjust="spacingAndGlyphs">Treat All</text>
<line x1="264.5" y1="738.3" x2="276.9" y2="738.3" stroke="#279527" stroke-width="1.5"/>
<text x="281.1" y="740.7" font-size="6.6" fill="#1a1a1a" textLength="41.8" lengthAdjust="spacingAndGlyphs">EUS Prediction</text>
<line x1="264.5" y1="748.1" x2="276.9" y2="748.1" stroke="#1414ff" stroke-width="1.8"/>
<text x="281.1" y="750.5" font-size="6.6" fill="#1a1a1a" textLength="35.9" lengthAdjust="spacingAndGlyphs">AI Prediction</text>
</g>
<g>
<clipPath id="d1001"><rect x="384.4" y="617" width="293.2" height="233.4"/></clipPath>
<line x1="421.05" y1="617" x2="421.05" y2="850.4" stroke="#d0d0d0" stroke-width="0.6" stroke-dasharray="1.6 1.2"/>
<line x1="457.7" y1="617" x2="457.7" y2="850.4" stroke="#d0d0d0" stroke-width="0.6" stroke-dasharray="1.6 1.2"/>
<line x1="494.35" y1="617" x2="494.35" y2="850.4" stroke="#d0d0d0" stroke-width="0.6" stroke-dasharray="1.6 1.2"/>
<line x1="531" y1="617" x2="531" y2="850.4" stroke="#d0d0d0" stroke-width="0.6" stroke-dasharray="1.6 1.2"/>
<line x1="567.65" y1="617" x2="567.65" y2="850.4" stroke="#d0d0d0" stroke-width="0.6" stroke-dasharray="1.6 1.2"/>
<line x1="604.3" y1="617" x2="604.3" y2="850.4" stroke="#d0d0d0" stroke-width="0.6" stroke-dasharray="1.6 1.2"/>
<line x1="640.95" y1="617" x2="640.95" y2="850.4" stroke="#d0d0d0" stroke-width="0.6" stroke-dasharray="1.6 1.2"/>
<line x1="384.4" y1="811.5" x2="677.6" y2="811.5" stroke="#d0d0d0" stroke-width="0.6" stroke-dasharray="1.6 1.2"/>
<line x1="384.4" y1="768.28" x2="677.6" y2="768.28" stroke="#d0d0d0" stroke-width="0.6" stroke-dasharray="1.6 1.2"/>
<line x1="384.4" y1="725.06" x2="677.6" y2="725.06" stroke="#d0d0d0" stroke-width="0.6" stroke-dasharray="1.6 1.2"/>
<line x1="384.4" y1="681.83" x2="677.6" y2="681.83" stroke="#d0d0d0" stroke-width="0.6" stroke-dasharray="1.6 1.2"/>
<line x1="384.4" y1="638.61" x2="677.6" y2="638.61" stroke="#d0d0d0" stroke-width="0.6" stroke-dasharray="1.6 1.2"/>
<g clip-path="url(#d1001)">
<polyline points="388.06,640.79 389.51,641.67 390.96,642.55 392.41,643.44 393.86,644.33 395.3,645.24 396.75,646.15 398.2,647.07 399.65,647.99 401.09,648.92 402.54,649.87 403.99,650.81 405.44,651.77 406.88,652.74 408.33,653.71 409.78,654.69 411.23,655.68 412.68,656.68 414.12,657.68 415.57,658.7 417.02,659.72 418.47,660.76 419.91,661.8 421.36,662.85 422.81,663.91 424.26,664.98 425.7,666.06 427.15,667.15 428.6,668.25 430.05,669.36 431.5,670.48 432.94,671.61 434.39,672.74 435.84,673.89 437.29,675.05 438.73,676.23 440.18,677.41 441.63,678.6 443.08,679.81 444.52,681.02 445.97,682.25 447.42,683.49 448.87,684.74 450.32,686 451.76,687.28 453.21,688.56 454.66,689.86 456.11,691.18 457.55,692.5 459,693.84 460.45,695.2 461.9,696.56 463.34,697.94 464.79,699.33 466.24,700.74 467.69,702.16 469.13,703.6 470.58,705.05 472.03,706.52 473.48,708 474.93,709.5 476.37,711.01 477.82,712.54 479.27,714.09 480.72,715.65 482.16,717.23 483.61,718.83 485.06,720.44 486.51,722.07 487.95,723.72 489.4,725.39 490.85,727.07 492.3,728.78 493.75,730.5 495.19,732.25 496.64,734.01 498.09,735.8 499.54,737.6 500.98,739.42 502.43,741.27 503.88,743.14 505.33,745.03 506.77,746.94 508.22,748.88 509.67,750.84 511.12,752.82 512.57,754.83 514.01,756.86 515.46,758.91 516.91,760.99 518.36,763.1 519.8,765.23 521.25,767.39 522.7,769.58 524.15,771.8 525.59,774.04 527.04,776.32 528.49,778.62 529.94,780.95 531.38,783.32 532.83,785.71 534.28,788.14 535.73,790.6 537.18,793.09 538.62,795.62 540.07,798.18 541.52,800.78 542.97,803.41 544.41,806.08 545.86,808.79 547.31,811.54 548.76,814.33 550.2,817.15 551.65,820.02 553.1,822.93 554.55,825.88 556,828.88 557.44,831.92 558.89,835 560.34,838.14 561.79,841.32 563.23,844.55 564.68,847.83 566.13,851.16 567.58,854.55 569.02,857.99" fill="none" stroke="#7f7f7f" stroke-width="1.4" stroke-linejoin="round" stroke-dasharray="4.6 2.0"/>
<polyline points="388.06,714.05 389.51,714.27 390.96,714.51 392.41,714.74 393.86,714.97 395.3,715.21 396.75,715.45 398.2,715.69 399.65,715.94 401.09,716.18 402.54,716.43 403.99,716.68 405.44,716.93 406.88,717.18 408.33,717.44 409.78,717.69 411.23,717.95 412.68,718.22 414.12,718.48 415.57,718.75 417.02,719.02 418.47,719.29 419.91,719.56 421.36,719.84 422.81,720.12 424.26,720.4 425.7,720.68 427.15,720.97 428.6,721.25 430.05,721.55 431.5,721.84 432.94,722.14 434.39,722.44 435.84,722.74 437.29,723.04 438.73,723.35 440.18,723.66 441.63,723.97 443.08,724.29 444.52,724.61 445.97,724.93 447.42,725.26 448.87,725.59 450.32,725.92 451.76,726.25 453.21,726.59 454.66,726.93 456.11,727.28 457.55,727.62 459,727.98 460.45,728.33 461.9,728.69 463.34,729.05 464.79,729.42 466.24,729.79 467.69,730.16 469.13,730.54 470.58,730.92 472.03,731.3 473.48,731.69 474.93,732.09 476.37,732.48 477.82,732.89 479.27,733.29 480.72,733.7 482.16,734.12 483.61,734.54 485.06,734.96 486.51,735.39 487.95,735.82 489.4,736.26 490.85,736.7 492.3,737.15 493.75,737.6 495.19,738.06 496.64,738.52 498.09,738.99 499.54,739.47 500.98,739.95 502.43,740.43 503.88,740.92 505.33,741.42 506.77,741.92 508.22,742.43 509.67,742.94 511.12,743.46 512.57,743.99 514.01,744.52 515.46,745.06 516.91,745.61 518.36,746.16 519.8,746.72 521.25,747.29 522.7,747.87 524.15,748.45 525.59,749.04 527.04,749.63 528.49,750.24 529.94,750.85 531.38,751.47 532.83,752.1 534.28,752.74 535.73,753.38 537.18,754.04 538.62,754.7 540.07,755.38 541.52,756.06 542.97,756.75 544.41,757.45 545.86,758.16 547.31,758.88 548.76,759.61 550.2,760.36 551.65,761.11 553.1,761.87 554.55,762.65 556,763.44 557.44,764.23 558.89,765.04 560.34,765.87 561.79,766.7 563.23,767.55 564.68,768.41 566.13,769.29 567.58,770.18 569.02,771.08 570.47,772 571.92,772.93 573.37,773.88 574.82,774.84 576.26,775.82 577.71,776.82 579.16,777.83 580.61,778.86 582.05,779.91 583.5,780.97 584.95,782.05 586.4,783.16 587.84,784.28 589.29,785.42 590.74,786.59 592.19,787.77 593.63,788.98 595.08,790.21 596.53,791.46 597.98,792.73 599.43,794.03 600.87,795.36 602.32,796.71 603.77,798.09 605.22,799.49 606.66,800.92 608.11,802.39 609.56,803.88 611.01,805.4 612.45,806.95 613.9,808.54 615.35,810.16 616.8,811.82 618.25,813.51 619.69,815.24 621.14,817.01 622.59,818.82 624.04,820.67 625.48,822.56 626.93,824.5 628.38,826.48 629.83,828.51 631.27,830.59 632.72,832.72 634.17,834.9 635.62,837.14 637.07,839.43 638.51,841.79 639.96,844.2 641.41,846.68 642.86,849.23 644.3,851.84 645.75,854.53 647.2,857.29" fill="none" stroke="#279527" stroke-width="1.5" stroke-linejoin="round"/>
<polyline points="388.06,655.9 389.51,655.94 390.96,655.98 392.41,656.01 393.86,656.05 395.3,656.09 396.75,656.13 398.2,656.16 399.65,656.2 401.09,656.24 402.54,656.28 403.99,656.32 405.44,656.36 406.88,656.4 408.33,656.44 409.78,656.48 411.23,656.52 412.68,656.56 414.12,656.6 415.57,656.65 417.02,656.69 418.47,656.73 419.91,656.77 421.36,656.82 422.81,656.86 424.26,656.91 425.7,656.95 427.15,657 428.6,657.04 430.05,657.09 431.5,657.13 432.94,657.18 434.39,657.23 435.84,657.27 437.29,657.32 438.73,657.37 440.18,657.42 441.63,657.47 443.08,657.52 444.52,657.57 445.97,657.62 447.42,657.67 448.87,657.72 450.32,657.78 451.76,657.83 453.21,657.88 454.66,657.94 456.11,657.99 457.55,658.04 459,658.1 460.45,658.16 461.9,658.21 463.34,658.27 464.79,658.33 466.24,658.39 467.69,658.44 469.13,658.5 470.58,658.56 472.03,658.62 473.48,658.69 474.93,658.75 476.37,658.81 477.82,658.87 479.27,658.94 480.72,659 482.16,659.07 483.61,659.13 485.06,659.2 486.51,659.27 487.95,659.34 489.4,659.41 490.85,659.48 492.3,659.55 493.75,659.62 495.19,659.69 496.64,659.76 498.09,659.84 499.54,659.91 500.98,659.99 502.43,660.06 503.88,660.14 505.33,660.22 506.77,660.3 508.22,660.38 509.67,660.46 511.12,660.54 512.57,660.62 514.01,660.71 515.46,660.79 516.91,660.88 518.36,660.97 519.8,661.06 521.25,661.15 522.7,661.24 524.15,661.33 525.59,661.42 527.04,661.51 528.49,661.61 529.94,661.71 531.38,661.8 532.83,661.9 534.28,662 535.73,662.11 537.18,662.21 538.62,662.31 540.07,662.42 541.52,662.53 542.97,662.64 544.41,662.75 545.86,662.86 547.31,662.97 548.76,663.09 550.2,663.21 551.65,663.32 553.1,663.44 554.55,663.57 556,663.69 557.44,663.82 558.89,663.94 560.34,664.07 561.79,664.21 563.23,664.34 564.68,664.48 566.13,664.61 567.58,664.75 569.02,664.9 570.47,665.04 571.92,665.19 573.37,665.34 574.82,665.49 576.26,665.64 577.71,665.8 579.16,665.96 580.61,666.12 582.05,666.29 583.5,666.45 584.95,666.63 586.4,666.8 587.84,666.98 589.29,667.16 590.74,667.34 592.19,667.53 593.63,667.72 595.08,667.91 596.53,668.11 597.98,668.31 599.43,668.51 600.87,668.72 602.32,668.94 603.77,669.15 605.22,669.37 606.66,669.6 608.11,669.83 609.56,670.07 611.01,670.31 612.45,670.55 613.9,670.8 615.35,671.06 616.8,671.32 618.25,671.59 619.69,671.86 621.14,672.14 622.59,672.42 624.04,672.71 625.48,673.01 626.93,673.32 628.38,673.63 629.83,673.95 631.27,674.28 632.72,674.61 634.17,674.96 635.62,675.31 637.07,675.67 638.51,676.04 639.96,676.42 641.41,676.81 642.86,677.22 644.3,677.63 645.75,678.05 647.2,678.49 648.65,678.93 650.09,679.4 651.54,679.87 652.99,680.36 654.44,680.86 655.88,681.38 657.33,681.91 658.78,682.46 660.23,683.03 661.68,683.62 663.12,684.22 664.57,684.85 666.02,685.5 667.47,686.17 668.91,686.86 670.36,687.58 671.81,688.33 673.26,689.1 674.7,689.9 676.15,690.74 677.6,691.6" fill="none" stroke="#1414ff" stroke-width="1.7" stroke-linejoin="round"/>
</g>
<rect x="384.4" y="617" width="293.2" height="233.4" fill="none" stroke="#7a7a7a" stroke-width="1"/>
<line x1="384.4" y1="850.4" x2="384.4" y2="852.6" stroke="#7a7a7a" stroke-width="0.8"/>
<text x="384.4" y="859.9" font-size="6.9" fill="#1a1a1a" text-anchor="middle" textLength="8.4" lengthAdjust="spacingAndGlyphs">0.0</text>
<line x1="421.05" y1="850.4" x2="421.05" y2="852.6" stroke="#7a7a7a" stroke-width="0.8"/>
<text x="421.05" y="859.9" font-size="6.9" fill="#1a1a1a" text-anchor="middle" textLength="8.4" lengthAdjust="spacingAndGlyphs">0.1</text>
<line x1="457.7" y1="850.4" x2="457.7" y2="852.6" stroke="#7a7a7a" stroke-width="0.8"/>
<text x="457.7" y="859.9" font-size="6.9" fill="#1a1a1a" text-anchor="middle" textLength="8.4" lengthAdjust="spacingAndGlyphs">0.2</text>
<line x1="494.35" y1="850.4" x2="494.35" y2="852.6" stroke="#7a7a7a" stroke-width="0.8"/>
<text x="494.35" y="859.9" font-size="6.9" fill="#1a1a1a" text-anchor="middle" textLength="8.4" lengthAdjust="spacingAndGlyphs">0.3</text>
<line x1="531" y1="850.4" x2="531" y2="852.6" stroke="#7a7a7a" stroke-width="0.8"/>
<text x="531" y="859.9" font-size="6.9" fill="#1a1a1a" text-anchor="middle" textLength="8.4" lengthAdjust="spacingAndGlyphs">0.4</text>
<line x1="567.65" y1="850.4" x2="567.65" y2="852.6" stroke="#7a7a7a" stroke-width="0.8"/>
<text x="567.65" y="859.9" font-size="6.9" fill="#1a1a1a" text-anchor="middle" textLength="8.4" lengthAdjust="spacingAndGlyphs">0.5</text>
<line x1="604.3" y1="850.4" x2="604.3" y2="852.6" stroke="#7a7a7a" stroke-width="0.8"/>
<text x="604.3" y="859.9" font-size="6.9" fill="#1a1a1a" text-anchor="middle" textLength="8.4" lengthAdjust="spacingAndGlyphs">0.6</text>
<line x1="640.95" y1="850.4" x2="640.95" y2="852.6" stroke="#7a7a7a" stroke-width="0.8"/>
<text x="640.95" y="859.9" font-size="6.9" fill="#1a1a1a" text-anchor="middle" textLength="8.4" lengthAdjust="spacingAndGlyphs">0.7</text>
<line x1="677.6" y1="850.4" x2="677.6" y2="852.6" stroke="#7a7a7a" stroke-width="0.8"/>
<text x="677.6" y="859.9" font-size="6.9" fill="#1a1a1a" text-anchor="middle" textLength="8.4" lengthAdjust="spacingAndGlyphs">0.8</text>
<line x1="382.2" y1="811.5" x2="384.4" y2="811.5" stroke="#7a7a7a" stroke-width="0.8"/>
<text x="380" y="814" font-size="6.9" fill="#1a1a1a" text-anchor="end" textLength="8.3" lengthAdjust="spacingAndGlyphs">0.1</text>
<line x1="382.2" y1="768.28" x2="384.4" y2="768.28" stroke="#7a7a7a" stroke-width="0.8"/>
<text x="380" y="770.78" font-size="6.9" fill="#1a1a1a" text-anchor="end" textLength="8.3" lengthAdjust="spacingAndGlyphs">0.2</text>
<line x1="382.2" y1="725.06" x2="384.4" y2="725.06" stroke="#7a7a7a" stroke-width="0.8"/>
<text x="380" y="727.56" font-size="6.9" fill="#1a1a1a" text-anchor="end" textLength="8.3" lengthAdjust="spacingAndGlyphs">0.3</text>
<line x1="382.2" y1="681.83" x2="384.4" y2="681.83" stroke="#7a7a7a" stroke-width="0.8"/>
<text x="380" y="684.33" font-size="6.9" fill="#1a1a1a" text-anchor="end" textLength="8.3" lengthAdjust="spacingAndGlyphs">0.4</text>
<line x1="382.2" y1="638.61" x2="384.4" y2="638.61" stroke="#7a7a7a" stroke-width="0.8"/>
<text x="380" y="641.11" font-size="6.9" fill="#1a1a1a" text-anchor="end" textLength="8.3" lengthAdjust="spacingAndGlyphs">0.5</text>
<text x="531" y="613.4" font-size="10.2" fill="#1a1a1a" text-anchor="middle" textLength="96.5" lengthAdjust="spacingAndGlyphs">Decision Curve Analysis</text>
<text x="531" y="869.8" font-size="8.7" fill="#1a1a1a" text-anchor="middle" textLength="72.6" lengthAdjust="spacingAndGlyphs">Threshold probability</text>
<text x="368" y="733.7" font-size="8.6" fill="#1a1a1a" text-anchor="middle" textLength="43.2" lengthAdjust="spacingAndGlyphs" transform="rotate(-90 368 733.7)">Net benefit</text>
<rect x="612" y="713.7" width="62.5" height="40.7" rx="1.2" fill="#fff" fill-opacity="0.8" stroke="#d8d8d8" stroke-width="0.7"/>
<line x1="613.6" y1="718.6" x2="626" y2="718.6" stroke="#111" stroke-width="1.8" stroke-dasharray="5.2 2.0"/>
<text x="630.2" y="721" font-size="6.6" fill="#1a1a1a" textLength="14.4" lengthAdjust="spacingAndGlyphs">None</text>
<line x1="613.6" y1="728.6" x2="626" y2="728.6" stroke="#7f7f7f" stroke-width="1.4" stroke-dasharray="5.2 2.0"/>
<text x="630.2" y="731" font-size="6.6" fill="#1a1a1a" textLength="7.2" lengthAdjust="spacingAndGlyphs">All</text>
<line x1="613.6" y1="738.3" x2="626" y2="738.3" stroke="#279527" stroke-width="1.5"/>
<text x="630.2" y="740.7" font-size="6.6" fill="#1a1a1a" textLength="42" lengthAdjust="spacingAndGlyphs">EUS Prediction</text>
<line x1="613.6" y1="748.1" x2="626" y2="748.1" stroke="#1414ff" stroke-width="1.8"/>
<text x="630.2" y="750.5" font-size="6.6" fill="#1a1a1a" textLength="35.8" lengthAdjust="spacingAndGlyphs">AI Prediction</text>
</g>
<g>
<clipPath id="d949"><rect x="40.6" y="909.3" width="295.5" height="233.7"/></clipPath>
<line x1="77.54" y1="909.3" x2="77.54" y2="1143" stroke="#d0d0d0" stroke-width="0.6" stroke-dasharray="1.6 1.2"/>
<line x1="114.47" y1="909.3" x2="114.47" y2="1143" stroke="#d0d0d0" stroke-width="0.6" stroke-dasharray="1.6 1.2"/>
<line x1="151.41" y1="909.3" x2="151.41" y2="1143" stroke="#d0d0d0" stroke-width="0.6" stroke-dasharray="1.6 1.2"/>
<line x1="188.35" y1="909.3" x2="188.35" y2="1143" stroke="#d0d0d0" stroke-width="0.6" stroke-dasharray="1.6 1.2"/>
<line x1="225.29" y1="909.3" x2="225.29" y2="1143" stroke="#d0d0d0" stroke-width="0.6" stroke-dasharray="1.6 1.2"/>
<line x1="262.23" y1="909.3" x2="262.23" y2="1143" stroke="#d0d0d0" stroke-width="0.6" stroke-dasharray="1.6 1.2"/>
<line x1="299.16" y1="909.3" x2="299.16" y2="1143" stroke="#d0d0d0" stroke-width="0.6" stroke-dasharray="1.6 1.2"/>
<line x1="40.6" y1="1104.05" x2="336.1" y2="1104.05" stroke="#d0d0d0" stroke-width="0.6" stroke-dasharray="1.6 1.2"/>
<line x1="40.6" y1="1060.77" x2="336.1" y2="1060.77" stroke="#d0d0d0" stroke-width="0.6" stroke-dasharray="1.6 1.2"/>
<line x1="40.6" y1="1017.49" x2="336.1" y2="1017.49" stroke="#d0d0d0" stroke-width="0.6" stroke-dasharray="1.6 1.2"/>
<line x1="40.6" y1="974.22" x2="336.1" y2="974.22" stroke="#d0d0d0" stroke-width="0.6" stroke-dasharray="1.6 1.2"/>
<line x1="40.6" y1="930.94" x2="336.1" y2="930.94" stroke="#d0d0d0" stroke-width="0.6" stroke-dasharray="1.6 1.2"/>
<g clip-path="url(#d949)">
<polyline points="44.29,933.12 45.75,934 47.21,934.88 48.67,935.77 50.13,936.67 51.59,937.57 53.05,938.49 54.51,939.4 55.97,940.33 57.43,941.27 58.88,942.21 60.34,943.16 61.8,944.12 63.26,945.08 64.72,946.06 66.18,947.04 67.64,948.03 69.1,949.03 70.56,950.04 72.02,951.05 73.47,952.08 74.93,953.11 76.39,954.16 77.85,955.21 79.31,956.27 80.77,957.34 82.23,958.42 83.69,959.51 85.15,960.61 86.61,961.72 88.06,962.84 89.52,963.98 90.98,965.12 92.44,966.27 93.9,967.43 95.36,968.6 96.82,969.79 98.28,970.98 99.74,972.19 101.2,973.4 102.66,974.63 104.11,975.87 105.57,977.13 107.03,978.39 108.49,979.67 109.95,980.96 111.41,982.26 112.87,983.57 114.33,984.9 115.79,986.24 117.25,987.6 118.7,988.96 120.16,990.35 121.62,991.74 123.08,993.15 124.54,994.57 126,996.01 127.46,997.47 128.92,998.94 130.38,1000.42 131.84,1001.92 133.29,1003.43 134.75,1004.97 136.21,1006.51 137.67,1008.08 139.13,1009.66 140.59,1011.26 142.05,1012.87 143.51,1014.51 144.97,1016.16 146.43,1017.83 147.88,1019.52 149.34,1021.22 150.8,1022.95 152.26,1024.7 153.72,1026.46 155.18,1028.25 156.64,1030.05 158.1,1031.88 159.56,1033.73 161.02,1035.6 162.48,1037.49 163.93,1039.41 165.39,1041.35 166.85,1043.31 168.31,1045.29 169.77,1047.3 171.23,1049.34 172.69,1051.39 174.15,1053.48 175.61,1055.59 177.07,1057.72 178.52,1059.89 179.98,1062.08 181.44,1064.3 182.9,1066.54 184.36,1068.82 185.82,1071.13 187.28,1073.46 188.74,1075.83 190.2,1078.23 191.66,1080.66 193.11,1083.12 194.57,1085.62 196.03,1088.15 197.49,1090.71 198.95,1093.32 200.41,1095.95 201.87,1098.63 203.33,1101.34 204.79,1104.09 206.25,1106.88 207.71,1109.71 209.16,1112.58 210.62,1115.49 212.08,1118.45 213.54,1121.45 215,1124.49 216.46,1127.58 217.92,1130.72 219.38,1133.91 220.84,1137.14 222.3,1140.43 223.75,1143.77 225.21,1147.15 226.67,1150.6" fill="none" stroke="#7f7f7f" stroke-width="1.4" stroke-linejoin="round" stroke-dasharray="4.6 2.0"/>
<polyline points="44.29,972.05 45.75,972.39 47.21,972.74 48.67,973.09 50.13,973.44 51.59,973.79 53.05,974.15 54.51,974.51 55.97,974.88 57.43,975.24 58.88,975.61 60.34,975.99 61.8,976.36 63.26,976.74 64.72,977.13 66.18,977.51 67.64,977.9 69.1,978.29 70.56,978.69 72.02,979.09 73.47,979.49 74.93,979.9 76.39,980.31 77.85,980.72 79.31,981.14 80.77,981.56 82.23,981.98 83.69,982.41 85.15,982.84 86.61,983.28 88.06,983.72 89.52,984.16 90.98,984.61 92.44,985.06 93.9,985.52 95.36,985.98 96.82,986.45 98.28,986.92 99.74,987.39 101.2,987.87 102.66,988.35 104.11,988.84 105.57,989.33 107.03,989.83 108.49,990.33 109.95,990.83 111.41,991.35 112.87,991.86 114.33,992.38 115.79,992.91 117.25,993.44 118.7,993.98 120.16,994.52 121.62,995.07 123.08,995.62 124.54,996.18 126,996.75 127.46,997.32 128.92,997.9 130.38,998.48 131.84,999.07 133.29,999.66 134.75,1000.27 136.21,1000.87 137.67,1001.49 139.13,1002.11 140.59,1002.74 142.05,1003.37 143.51,1004.01 144.97,1004.66 146.43,1005.32 147.88,1005.98 149.34,1006.65 150.8,1007.33 152.26,1008.02 153.72,1008.71 155.18,1009.41 156.64,1010.12 158.1,1010.84 159.56,1011.56 161.02,1012.3 162.48,1013.04 163.93,1013.79 165.39,1014.56 166.85,1015.33 168.31,1016.11 169.77,1016.89 171.23,1017.69 172.69,1018.5 174.15,1019.32 175.61,1020.15 177.07,1020.99 178.52,1021.84 179.98,1022.7 181.44,1023.57 182.9,1024.45 184.36,1025.35 185.82,1026.25 187.28,1027.17 188.74,1028.1 190.2,1029.04 191.66,1030 193.11,1030.96 194.57,1031.95 196.03,1032.94 197.49,1033.95 198.95,1034.97 200.41,1036 201.87,1037.06 203.33,1038.12 204.79,1039.2 206.25,1040.3 207.71,1041.41 209.16,1042.54 210.62,1043.68 212.08,1044.84 213.54,1046.02 215,1047.22 216.46,1048.43 217.92,1049.66 219.38,1050.91 220.84,1052.18 222.3,1053.47 223.75,1054.79 225.21,1056.12 226.67,1057.47 228.13,1058.84 229.59,1060.24 231.05,1061.66 232.51,1063.1 233.97,1064.57 235.43,1066.06 236.89,1067.58 238.34,1069.12 239.8,1070.69 241.26,1072.28 242.72,1073.91 244.18,1075.56 245.64,1077.24 247.1,1078.95 248.56,1080.69 250.02,1082.47 251.48,1084.27 252.94,1086.11 254.39,1087.99 255.85,1089.9 257.31,1091.85 258.77,1093.83 260.23,1095.85 261.69,1097.92 263.15,1100.02 264.61,1102.17 266.07,1104.36 267.53,1106.59 268.98,1108.87 270.44,1111.2 271.9,1113.58 273.36,1116.01 274.82,1118.49 276.28,1121.02 277.74,1123.61 279.2,1126.26 280.66,1128.97 282.12,1131.74 283.57,1134.58 285.03,1137.48 286.49,1140.44 287.95,1143.49 289.41,1146.6 290.87,1149.79" fill="none" stroke="#279527" stroke-width="1.5" stroke-linejoin="round"/>
<polyline points="44.29,950.43 45.75,950.62 47.21,950.82 48.67,951.02 50.13,951.22 51.59,951.42 53.05,951.62 54.51,951.83 55.97,952.03 57.43,952.24 58.88,952.45 60.34,952.66 61.8,952.88 63.26,953.09 64.72,953.31 66.18,953.53 67.64,953.75 69.1,953.97 70.56,954.2 72.02,954.42 73.47,954.65 74.93,954.88 76.39,955.12 77.85,955.35 79.31,955.59 80.77,955.83 82.23,956.07 83.69,956.31 85.15,956.56 86.61,956.8 88.06,957.05 89.52,957.3 90.98,957.56 92.44,957.82 93.9,958.08 95.36,958.34 96.82,958.6 98.28,958.87 99.74,959.14 101.2,959.41 102.66,959.68 104.11,959.96 105.57,960.24 107.03,960.52 108.49,960.8 109.95,961.09 111.41,961.38 112.87,961.68 114.33,961.97 115.79,962.27 117.25,962.57 118.7,962.88 120.16,963.19 121.62,963.5 123.08,963.81 124.54,964.13 126,964.45 127.46,964.77 128.92,965.1 130.38,965.43 131.84,965.77 133.29,966.1 134.75,966.45 136.21,966.79 137.67,967.14 139.13,967.49 140.59,967.85 142.05,968.21 143.51,968.57 144.97,968.94 146.43,969.31 147.88,969.69 149.34,970.07 150.8,970.46 152.26,970.85 153.72,971.24 155.18,971.64 156.64,972.04 158.1,972.45 159.56,972.86 161.02,973.28 162.48,973.7 163.93,974.13 165.39,974.56 166.85,975 168.31,975.44 169.77,975.89 171.23,976.34 172.69,976.8 174.15,977.26 175.61,977.73 177.07,978.21 178.52,978.69 179.98,979.18 181.44,979.68 182.9,980.18 184.36,980.69 185.82,981.2 187.28,981.72 188.74,982.25 190.2,982.78 191.66,983.33 193.11,983.87 194.57,984.43 196.03,985 197.49,985.57 198.95,986.15 200.41,986.74 201.87,987.33 203.33,987.94 204.79,988.55 206.25,989.17 207.71,989.8 209.16,990.44 210.62,991.09 212.08,991.75 213.54,992.42 215,993.1 216.46,993.79 217.92,994.49 219.38,995.2 220.84,995.92 222.3,996.65 223.75,997.4 225.21,998.15 226.67,998.92 228.13,999.7 229.59,1000.49 231.05,1001.3 232.51,1002.12 233.97,1002.95 235.43,1003.8 236.89,1004.66 238.34,1005.53 239.8,1006.43 241.26,1007.33 242.72,1008.25 244.18,1009.19 245.64,1010.15 247.1,1011.12 248.56,1012.11 250.02,1013.11 251.48,1014.14 252.94,1015.18 254.39,1016.25 255.85,1017.33 257.31,1018.44 258.77,1019.56 260.23,1020.71 261.69,1021.88 263.15,1023.08 264.61,1024.3 266.07,1025.54 267.53,1026.81 268.98,1028.1 270.44,1029.43 271.9,1030.78 273.36,1032.15 274.82,1033.56 276.28,1035 277.74,1036.47 279.2,1037.98 280.66,1039.51 282.12,1041.09 283.57,1042.7 285.03,1044.34 286.49,1046.03 287.95,1047.75 289.41,1049.52 290.87,1051.33 292.33,1053.19 293.79,1055.09 295.25,1057.04 296.71,1059.04 298.17,1061.1 299.62,1063.21 301.08,1065.37 302.54,1067.59 304,1069.88 305.46,1072.22 306.92,1074.64 308.38,1077.12 309.84,1079.68 311.3,1082.31 312.76,1085.02 314.21,1087.82 315.67,1090.69 317.13,1093.67 318.59,1096.73 320.05,1099.9 321.51,1103.16 322.97,1106.54 324.43,1110.04 325.89,1113.65 327.35,1117.39 328.8,1121.27 330.26,1125.29 331.72,1129.46 333.18,1133.79 334.64,1138.28 336.1,1142.96" fill="none" stroke="#1414ff" stroke-width="1.7" stroke-linejoin="round"/>
</g>
<rect x="40.6" y="909.3" width="295.5" height="233.7" fill="none" stroke="#7a7a7a" stroke-width="1"/>
<line x1="40.6" y1="1143" x2="40.6" y2="1145.2" stroke="#7a7a7a" stroke-width="0.8"/>
<text x="40.6" y="1152.5" font-size="6.9" fill="#1a1a1a" text-anchor="middle" textLength="8.4" lengthAdjust="spacingAndGlyphs">0.0</text>
<line x1="77.54" y1="1143" x2="77.54" y2="1145.2" stroke="#7a7a7a" stroke-width="0.8"/>
<text x="77.54" y="1152.5" font-size="6.9" fill="#1a1a1a" text-anchor="middle" textLength="8.4" lengthAdjust="spacingAndGlyphs">0.1</text>
<line x1="114.47" y1="1143" x2="114.47" y2="1145.2" stroke="#7a7a7a" stroke-width="0.8"/>
<text x="114.47" y="1152.5" font-size="6.9" fill="#1a1a1a" text-anchor="middle" textLength="8.4" lengthAdjust="spacingAndGlyphs">0.2</text>
<line x1="151.41" y1="1143" x2="151.41" y2="1145.2" stroke="#7a7a7a" stroke-width="0.8"/>
<text x="151.41" y="1152.5" font-size="6.9" fill="#1a1a1a" text-anchor="middle" textLength="8.4" lengthAdjust="spacingAndGlyphs">0.3</text>
<line x1="188.35" y1="1143" x2="188.35" y2="1145.2" stroke="#7a7a7a" stroke-width="0.8"/>
<text x="188.35" y="1152.5" font-size="6.9" fill="#1a1a1a" text-anchor="middle" textLength="8.4" lengthAdjust="spacingAndGlyphs">0.4</text>
<line x1="225.29" y1="1143" x2="225.29" y2="1145.2" stroke="#7a7a7a" stroke-width="0.8"/>
<text x="225.29" y="1152.5" font-size="6.9" fill="#1a1a1a" text-anchor="middle" textLength="8.4" lengthAdjust="spacingAndGlyphs">0.5</text>
<line x1="262.23" y1="1143" x2="262.23" y2="1145.2" stroke="#7a7a7a" stroke-width="0.8"/>
<text x="262.23" y="1152.5" font-size="6.9" fill="#1a1a1a" text-anchor="middle" textLength="8.4" lengthAdjust="spacingAndGlyphs">0.6</text>
<line x1="299.16" y1="1143" x2="299.16" y2="1145.2" stroke="#7a7a7a" stroke-width="0.8"/>
<text x="299.16" y="1152.5" font-size="6.9" fill="#1a1a1a" text-anchor="middle" textLength="8.4" lengthAdjust="spacingAndGlyphs">0.7</text>
<line x1="336.1" y1="1143" x2="336.1" y2="1145.2" stroke="#7a7a7a" stroke-width="0.8"/>
<text x="336.1" y="1152.5" font-size="6.9" fill="#1a1a1a" text-anchor="middle" textLength="8.4" lengthAdjust="spacingAndGlyphs">0.8</text>
<line x1="38.4" y1="1104.05" x2="40.6" y2="1104.05" stroke="#7a7a7a" stroke-width="0.8"/>
<text x="36.2" y="1106.55" font-size="6.9" fill="#1a1a1a" text-anchor="end" textLength="8.3" lengthAdjust="spacingAndGlyphs">0.1</text>
<line x1="38.4" y1="1060.77" x2="40.6" y2="1060.77" stroke="#7a7a7a" stroke-width="0.8"/>
<text x="36.2" y="1063.27" font-size="6.9" fill="#1a1a1a" text-anchor="end" textLength="8.3" lengthAdjust="spacingAndGlyphs">0.2</text>
<line x1="38.4" y1="1017.49" x2="40.6" y2="1017.49" stroke="#7a7a7a" stroke-width="0.8"/>
<text x="36.2" y="1019.99" font-size="6.9" fill="#1a1a1a" text-anchor="end" textLength="8.3" lengthAdjust="spacingAndGlyphs">0.3</text>
<line x1="38.4" y1="974.22" x2="40.6" y2="974.22" stroke="#7a7a7a" stroke-width="0.8"/>
<text x="36.2" y="976.72" font-size="6.9" fill="#1a1a1a" text-anchor="end" textLength="8.3" lengthAdjust="spacingAndGlyphs">0.4</text>
<line x1="38.4" y1="930.94" x2="40.6" y2="930.94" stroke="#7a7a7a" stroke-width="0.8"/>
<text x="36.2" y="933.44" font-size="6.9" fill="#1a1a1a" text-anchor="end" textLength="8.3" lengthAdjust="spacingAndGlyphs">0.5</text>
<text x="188.35" y="905.4" font-size="10.2" fill="#1a1a1a" text-anchor="middle" textLength="96.5" lengthAdjust="spacingAndGlyphs">Decision Curve Analysis</text>
<text x="188.35" y="1162" font-size="8.7" fill="#1a1a1a" text-anchor="middle" textLength="73.8" lengthAdjust="spacingAndGlyphs">Threshold probability</text>
<text x="23.6" y="1026.15" font-size="8.6" fill="#1a1a1a" text-anchor="middle" textLength="43.2" lengthAdjust="spacingAndGlyphs" transform="rotate(-90 23.6 1026.15)">Net benefit</text>
<rect x="269.7" y="1005.9" width="63.7" height="40.7" rx="1.2" fill="#fff" fill-opacity="0.8" stroke="#d8d8d8" stroke-width="0.7"/>
<line x1="271.3" y1="1010.9" x2="283.7" y2="1010.9" stroke="#111" stroke-width="1.8" stroke-dasharray="5.2 2.0"/>
<text x="287.9" y="1013.3" font-size="6.6" fill="#1a1a1a" textLength="14.4" lengthAdjust="spacingAndGlyphs">None</text>
<line x1="271.3" y1="1020.7" x2="283.7" y2="1020.7" stroke="#7f7f7f" stroke-width="1.4" stroke-dasharray="5.2 2.0"/>
<text x="287.9" y="1023.1" font-size="6.6" fill="#1a1a1a" textLength="7.2" lengthAdjust="spacingAndGlyphs">All</text>
<line x1="271.3" y1="1030.5" x2="283.7" y2="1030.5" stroke="#279527" stroke-width="1.5"/>
<text x="287.9" y="1032.9" font-size="6.6" fill="#1a1a1a" textLength="42.3" lengthAdjust="spacingAndGlyphs">EUS Prediction</text>
<line x1="271.3" y1="1040.3" x2="283.7" y2="1040.3" stroke="#1414ff" stroke-width="1.8"/>
<text x="287.9" y="1042.7" font-size="6.6" fill="#1a1a1a" textLength="36" lengthAdjust="spacingAndGlyphs">AI Prediction</text>
</g>
<g>
<clipPath id="d1295"><rect x="385.7" y="909.4" width="293.3" height="233.6"/></clipPath>
<line x1="422.36" y1="909.4" x2="422.36" y2="1143" stroke="#d0d0d0" stroke-width="0.6" stroke-dasharray="1.6 1.2"/>
<line x1="459.02" y1="909.4" x2="459.02" y2="1143" stroke="#d0d0d0" stroke-width="0.6" stroke-dasharray="1.6 1.2"/>
<line x1="495.69" y1="909.4" x2="495.69" y2="1143" stroke="#d0d0d0" stroke-width="0.6" stroke-dasharray="1.6 1.2"/>
<line x1="532.35" y1="909.4" x2="532.35" y2="1143" stroke="#d0d0d0" stroke-width="0.6" stroke-dasharray="1.6 1.2"/>
<line x1="569.01" y1="909.4" x2="569.01" y2="1143" stroke="#d0d0d0" stroke-width="0.6" stroke-dasharray="1.6 1.2"/>
<line x1="605.68" y1="909.4" x2="605.68" y2="1143" stroke="#d0d0d0" stroke-width="0.6" stroke-dasharray="1.6 1.2"/>
<line x1="642.34" y1="909.4" x2="642.34" y2="1143" stroke="#d0d0d0" stroke-width="0.6" stroke-dasharray="1.6 1.2"/>
<line x1="385.7" y1="1104.07" x2="679" y2="1104.07" stroke="#d0d0d0" stroke-width="0.6" stroke-dasharray="1.6 1.2"/>
<line x1="385.7" y1="1060.81" x2="679" y2="1060.81" stroke="#d0d0d0" stroke-width="0.6" stroke-dasharray="1.6 1.2"/>
<line x1="385.7" y1="1017.55" x2="679" y2="1017.55" stroke="#d0d0d0" stroke-width="0.6" stroke-dasharray="1.6 1.2"/>
<line x1="385.7" y1="974.29" x2="679" y2="974.29" stroke="#d0d0d0" stroke-width="0.6" stroke-dasharray="1.6 1.2"/>
<line x1="385.7" y1="931.03" x2="679" y2="931.03" stroke="#d0d0d0" stroke-width="0.6" stroke-dasharray="1.6 1.2"/>
<g clip-path="url(#d1295)">
<polyline points="389.37,933.21 390.81,934.09 392.26,934.97 393.71,935.86 395.16,936.76 396.61,937.66 398.06,938.57 399.5,939.49 400.95,940.42 402.4,941.35 403.85,942.29 405.3,943.24 406.74,944.2 408.19,945.17 409.64,946.14 411.09,947.12 412.54,948.11 413.99,949.11 415.43,950.12 416.88,951.14 418.33,952.16 419.78,953.19 421.23,954.24 422.67,955.29 424.12,956.35 425.57,957.42 427.02,958.5 428.47,959.59 429.91,960.69 431.36,961.8 432.81,962.92 434.26,964.05 435.71,965.19 437.16,966.34 438.6,967.5 440.05,968.68 441.5,969.86 442.95,971.05 444.4,972.26 445.84,973.48 447.29,974.7 448.74,975.94 450.19,977.2 451.64,978.46 453.09,979.74 454.53,981.03 455.98,982.33 457.43,983.64 458.88,984.97 460.33,986.31 461.77,987.66 463.22,989.03 464.67,990.41 466.12,991.81 467.57,993.21 469.02,994.64 470.46,996.08 471.91,997.53 473.36,999 474.81,1000.48 476.26,1001.98 477.7,1003.49 479.15,1005.02 480.6,1006.57 482.05,1008.14 483.5,1009.72 484.95,1011.31 486.39,1012.93 487.84,1014.56 489.29,1016.21 490.74,1017.88 492.19,1019.57 493.63,1021.28 495.08,1023 496.53,1024.75 497.98,1026.51 499.43,1028.3 500.88,1030.1 502.32,1031.93 503.77,1033.78 505.22,1035.65 506.67,1037.54 508.12,1039.45 509.56,1041.39 511.01,1043.35 512.46,1045.34 513.91,1047.34 515.36,1049.38 516.81,1051.43 518.25,1053.52 519.7,1055.63 521.15,1057.76 522.6,1059.92 524.05,1062.11 525.49,1064.33 526.94,1066.58 528.39,1068.85 529.84,1071.16 531.29,1073.49 532.73,1075.86 534.18,1078.26 535.63,1080.69 537.08,1083.15 538.53,1085.64 539.98,1088.17 541.42,1090.74 542.87,1093.34 544.32,1095.97 545.77,1098.65 547.22,1101.36 548.66,1104.11 550.11,1106.89 551.56,1109.72 553.01,1112.59 554.46,1115.5 555.91,1118.46 557.35,1121.46 558.8,1124.5 560.25,1127.59 561.7,1130.73 563.15,1133.91 564.59,1137.15 566.04,1140.43 567.49,1143.76 568.94,1147.15 570.39,1150.59" fill="none" stroke="#7f7f7f" stroke-width="1.4" stroke-linejoin="round" stroke-dasharray="4.6 2.0"/>
<polyline points="389.37,990.72 390.81,991.07 392.26,991.42 393.71,991.77 395.16,992.12 396.61,992.48 398.06,992.84 399.5,993.2 400.95,993.57 402.4,993.94 403.85,994.31 405.3,994.68 406.74,995.06 408.19,995.44 409.64,995.83 411.09,996.22 412.54,996.61 413.99,997 415.43,997.4 416.88,997.8 418.33,998.2 419.78,998.61 421.23,999.02 422.67,999.44 424.12,999.86 425.57,1000.28 427.02,1000.71 428.47,1001.14 429.91,1001.57 431.36,1002.01 432.81,1002.45 434.26,1002.9 435.71,1003.35 437.16,1003.8 438.6,1004.26 440.05,1004.73 441.5,1005.19 442.95,1005.66 444.4,1006.14 445.84,1006.62 447.29,1007.11 448.74,1007.59 450.19,1008.09 451.64,1008.59 453.09,1009.09 454.53,1009.6 455.98,1010.11 457.43,1010.63 458.88,1011.16 460.33,1011.69 461.77,1012.22 463.22,1012.76 464.67,1013.31 466.12,1013.86 467.57,1014.41 469.02,1014.97 470.46,1015.54 471.91,1016.12 473.36,1016.7 474.81,1017.28 476.26,1017.87 477.7,1018.47 479.15,1019.08 480.6,1019.69 482.05,1020.3 483.5,1020.93 484.95,1021.56 486.39,1022.2 487.84,1022.84 489.29,1023.49 490.74,1024.15 492.19,1024.82 493.63,1025.49 495.08,1026.17 496.53,1026.86 497.98,1027.56 499.43,1028.26 500.88,1028.98 502.32,1029.7 503.77,1030.43 505.22,1031.17 506.67,1031.91 508.12,1032.67 509.56,1033.43 511.01,1034.21 512.46,1034.99 513.91,1035.78 515.36,1036.59 516.81,1037.4 518.25,1038.22 519.7,1039.05 521.15,1039.9 522.6,1040.75 524.05,1041.61 525.49,1042.49 526.94,1043.38 528.39,1044.27 529.84,1045.18 531.29,1046.11 532.73,1047.04 534.18,1047.99 535.63,1048.95 537.08,1049.92 538.53,1050.9 539.98,1051.9 541.42,1052.91 542.87,1053.94 544.32,1054.98 545.77,1056.04 547.22,1057.11 548.66,1058.19 550.11,1059.29 551.56,1060.41 553.01,1061.54 554.46,1062.69 555.91,1063.86 557.35,1065.04 558.8,1066.25 560.25,1067.46 561.7,1068.7 563.15,1069.96 564.59,1071.24 566.04,1072.53 567.49,1073.85 568.94,1075.19 570.39,1076.55 571.84,1077.93 573.28,1079.33 574.73,1080.76 576.18,1082.21 577.63,1083.68 579.08,1085.18 580.52,1086.7 581.97,1088.25 583.42,1089.83 584.87,1091.43 586.32,1093.06 587.77,1094.72 589.21,1096.41 590.66,1098.13 592.11,1099.88 593.56,1101.66 595.01,1103.48 596.45,1105.32 597.9,1107.21 599.35,1109.13 600.8,1111.08 602.25,1113.08 603.7,1115.11 605.14,1117.18 606.59,1119.3 608.04,1121.45 609.49,1123.65 610.94,1125.9 612.38,1128.19 613.83,1130.53 615.28,1132.92 616.73,1135.36 618.18,1137.85 619.63,1140.4 621.07,1143 622.52,1145.66 623.97,1148.38" fill="none" stroke="#279527" stroke-width="1.5" stroke-linejoin="round"/>
<polyline points="389.37,961.55 390.81,961.64 392.26,961.74 393.71,961.84 395.16,961.93 396.61,962.03 398.06,962.13 399.5,962.23 400.95,962.33 402.4,962.43 403.85,962.54 405.3,962.64 406.74,962.74 408.19,962.85 409.64,962.96 411.09,963.06 412.54,963.17 413.99,963.28 415.43,963.39 416.88,963.5 418.33,963.61 419.78,963.72 421.23,963.84 422.67,963.95 424.12,964.07 425.57,964.18 427.02,964.3 428.47,964.42 429.91,964.54 431.36,964.66 432.81,964.78 434.26,964.9 435.71,965.03 437.16,965.15 438.6,965.28 440.05,965.41 441.5,965.54 442.95,965.67 444.4,965.8 445.84,965.93 447.29,966.06 448.74,966.2 450.19,966.33 451.64,966.47 453.09,966.61 454.53,966.75 455.98,966.89 457.43,967.04 458.88,967.18 460.33,967.33 461.77,967.47 463.22,967.62 464.67,967.77 466.12,967.92 467.57,968.08 469.02,968.23 470.46,968.39 471.91,968.55 473.36,968.71 474.81,968.87 476.26,969.03 477.7,969.2 479.15,969.36 480.6,969.53 482.05,969.7 483.5,969.87 484.95,970.05 486.39,970.22 487.84,970.4 489.29,970.58 490.74,970.76 492.19,970.94 493.63,971.13 495.08,971.32 496.53,971.51 497.98,971.7 499.43,971.89 500.88,972.09 502.32,972.29 503.77,972.49 505.22,972.69 506.67,972.9 508.12,973.11 509.56,973.32 511.01,973.53 512.46,973.75 513.91,973.97 515.36,974.19 516.81,974.41 518.25,974.64 519.7,974.87 521.15,975.1 522.6,975.33 524.05,975.57 525.49,975.81 526.94,976.06 528.39,976.31 529.84,976.56 531.29,976.81 532.73,977.07 534.18,977.33 535.63,977.59 537.08,977.86 538.53,978.13 539.98,978.41 541.42,978.69 542.87,978.97 544.32,979.26 545.77,979.55 547.22,979.84 548.66,980.14 550.11,980.45 551.56,980.75 553.01,981.07 554.46,981.38 555.91,981.7 557.35,982.03 558.8,982.36 560.25,982.7 561.7,983.04 563.15,983.38 564.59,983.74 566.04,984.09 567.49,984.46 568.94,984.83 570.39,985.2 571.84,985.58 573.28,985.97 574.73,986.36 576.18,986.76 577.63,987.17 579.08,987.58 580.52,988 581.97,988.42 583.42,988.86 584.87,989.3 586.32,989.75 587.77,990.21 589.21,990.67 590.66,991.15 592.11,991.63 593.56,992.12 595.01,992.62 596.45,993.13 597.9,993.65 599.35,994.18 600.8,994.72 602.25,995.27 603.7,995.83 605.14,996.4 606.59,996.98 608.04,997.57 609.49,998.18 610.94,998.8 612.38,999.43 613.83,1000.08 615.28,1000.73 616.73,1001.41 618.18,1002.09 619.63,1002.8 621.07,1003.51 622.52,1004.25 623.97,1005 625.42,1005.76 626.87,1006.55 628.31,1007.35 629.76,1008.17 631.21,1009.01 632.66,1009.88 634.11,1010.76 635.55,1011.67 637,1012.59 638.45,1013.54 639.9,1014.52 641.35,1015.52 642.8,1016.55 644.24,1017.61 645.69,1018.69 647.14,1019.8 648.59,1020.95 650.04,1022.13 651.48,1023.34 652.93,1024.58 654.38,1025.87 655.83,1027.19 657.28,1028.55 658.73,1029.96 660.17,1031.4 661.62,1032.9 663.07,1034.44 664.52,1036.04 665.97,1037.68 667.41,1039.39 668.86,1041.15 670.31,1042.98 671.76,1044.87 673.21,1046.83 674.66,1048.86 676.1,1050.97 677.55,1053.16 679,1055.44" fill="none" stroke="#1414ff" stroke-width="1.7" stroke-linejoin="round"/>
</g>
<rect x="385.7" y="909.4" width="293.3" height="233.6" fill="none" stroke="#7a7a7a" stroke-width="1"/>
<line x1="385.7" y1="1143" x2="385.7" y2="1145.2" stroke="#7a7a7a" stroke-width="0.8"/>
<text x="385.7" y="1152.5" font-size="6.9" fill="#1a1a1a" text-anchor="middle" textLength="8.4" lengthAdjust="spacingAndGlyphs">0.0</text>
<line x1="422.36" y1="1143" x2="422.36" y2="1145.2" stroke="#7a7a7a" stroke-width="0.8"/>
<text x="422.36" y="1152.5" font-size="6.9" fill="#1a1a1a" text-anchor="middle" textLength="8.4" lengthAdjust="spacingAndGlyphs">0.1</text>
<line x1="459.02" y1="1143" x2="459.02" y2="1145.2" stroke="#7a7a7a" stroke-width="0.8"/>
<text x="459.02" y="1152.5" font-size="6.9" fill="#1a1a1a" text-anchor="middle" textLength="8.4" lengthAdjust="spacingAndGlyphs">0.2</text>
<line x1="495.69" y1="1143" x2="495.69" y2="1145.2" stroke="#7a7a7a" stroke-width="0.8"/>
<text x="495.69" y="1152.5" font-size="6.9" fill="#1a1a1a" text-anchor="middle" textLength="8.4" lengthAdjust="spacingAndGlyphs">0.3</text>
<line x1="532.35" y1="1143" x2="532.35" y2="1145.2" stroke="#7a7a7a" stroke-width="0.8"/>
<text x="532.35" y="1152.5" font-size="6.9" fill="#1a1a1a" text-anchor="middle" textLength="8.4" lengthAdjust="spacingAndGlyphs">0.4</text>
<line x1="569.01" y1="1143" x2="569.01" y2="1145.2" stroke="#7a7a7a" stroke-width="0.8"/>
<text x="569.01" y="1152.5" font-size="6.9" fill="#1a1a1a" text-anchor="middle" textLength="8.4" lengthAdjust="spacingAndGlyphs">0.5</text>
<line x1="605.68" y1="1143" x2="605.68" y2="1145.2" stroke="#7a7a7a" stroke-width="0.8"/>
<text x="605.68" y="1152.5" font-size="6.9" fill="#1a1a1a" text-anchor="middle" textLength="8.4" lengthAdjust="spacingAndGlyphs">0.6</text>
<line x1="642.34" y1="1143" x2="642.34" y2="1145.2" stroke="#7a7a7a" stroke-width="0.8"/>
<text x="642.34" y="1152.5" font-size="6.9" fill="#1a1a1a" text-anchor="middle" textLength="8.4" lengthAdjust="spacingAndGlyphs">0.7</text>
<line x1="679" y1="1143" x2="679" y2="1145.2" stroke="#7a7a7a" stroke-width="0.8"/>
<text x="679" y="1152.5" font-size="6.9" fill="#1a1a1a" text-anchor="middle" textLength="8.4" lengthAdjust="spacingAndGlyphs">0.8</text>
<line x1="383.5" y1="1104.07" x2="385.7" y2="1104.07" stroke="#7a7a7a" stroke-width="0.8"/>
<text x="381.3" y="1106.57" font-size="6.9" fill="#1a1a1a" text-anchor="end" textLength="8.3" lengthAdjust="spacingAndGlyphs">0.1</text>
<line x1="383.5" y1="1060.81" x2="385.7" y2="1060.81" stroke="#7a7a7a" stroke-width="0.8"/>
<text x="381.3" y="1063.31" font-size="6.9" fill="#1a1a1a" text-anchor="end" textLength="8.3" lengthAdjust="spacingAndGlyphs">0.2</text>
<line x1="383.5" y1="1017.55" x2="385.7" y2="1017.55" stroke="#7a7a7a" stroke-width="0.8"/>
<text x="381.3" y="1020.05" font-size="6.9" fill="#1a1a1a" text-anchor="end" textLength="8.3" lengthAdjust="spacingAndGlyphs">0.3</text>
<line x1="383.5" y1="974.29" x2="385.7" y2="974.29" stroke="#7a7a7a" stroke-width="0.8"/>
<text x="381.3" y="976.79" font-size="6.9" fill="#1a1a1a" text-anchor="end" textLength="8.3" lengthAdjust="spacingAndGlyphs">0.4</text>
<line x1="383.5" y1="931.03" x2="385.7" y2="931.03" stroke="#7a7a7a" stroke-width="0.8"/>
<text x="381.3" y="933.53" font-size="6.9" fill="#1a1a1a" text-anchor="end" textLength="8.3" lengthAdjust="spacingAndGlyphs">0.5</text>
<text x="532.35" y="905.4" font-size="10.2" fill="#1a1a1a" text-anchor="middle" textLength="96.5" lengthAdjust="spacingAndGlyphs">Decision Curve Analysis</text>
<text x="532.35" y="1162" font-size="8.7" fill="#1a1a1a" text-anchor="middle" textLength="73" lengthAdjust="spacingAndGlyphs">Threshold probability</text>
<text x="368.9" y="1026.2" font-size="8.6" fill="#1a1a1a" text-anchor="middle" textLength="43.2" lengthAdjust="spacingAndGlyphs" transform="rotate(-90 368.9 1026.2)">Net benefit</text>
<rect x="613.4" y="1006" width="62.6" height="40.5" rx="1.2" fill="#fff" fill-opacity="0.8" stroke="#d8d8d8" stroke-width="0.7"/>
<line x1="615" y1="1011.2" x2="627.4" y2="1011.2" stroke="#111" stroke-width="1.8" stroke-dasharray="5.2 2.0"/>
<text x="631.6" y="1013.6" font-size="6.6" fill="#1a1a1a" textLength="14.4" lengthAdjust="spacingAndGlyphs">None</text>
<line x1="615" y1="1020.8" x2="627.4" y2="1020.8" stroke="#7f7f7f" stroke-width="1.4" stroke-dasharray="5.2 2.0"/>
<text x="631.6" y="1023.2" font-size="6.6" fill="#1a1a1a" textLength="7.2" lengthAdjust="spacingAndGlyphs">All</text>
<line x1="615" y1="1030.4" x2="627.4" y2="1030.4" stroke="#279527" stroke-width="1.5"/>
<text x="631.6" y="1032.8" font-size="6.6" fill="#1a1a1a" textLength="41.9" lengthAdjust="spacingAndGlyphs">EUS Prediction</text>
<line x1="615" y1="1040.3" x2="627.4" y2="1040.3" stroke="#1414ff" stroke-width="1.8"/>
<text x="631.6" y="1042.7" font-size="6.6" fill="#1a1a1a" textLength="35.8" lengthAdjust="spacingAndGlyphs">AI Prediction</text>
</g>
</svg>
</body></html>
